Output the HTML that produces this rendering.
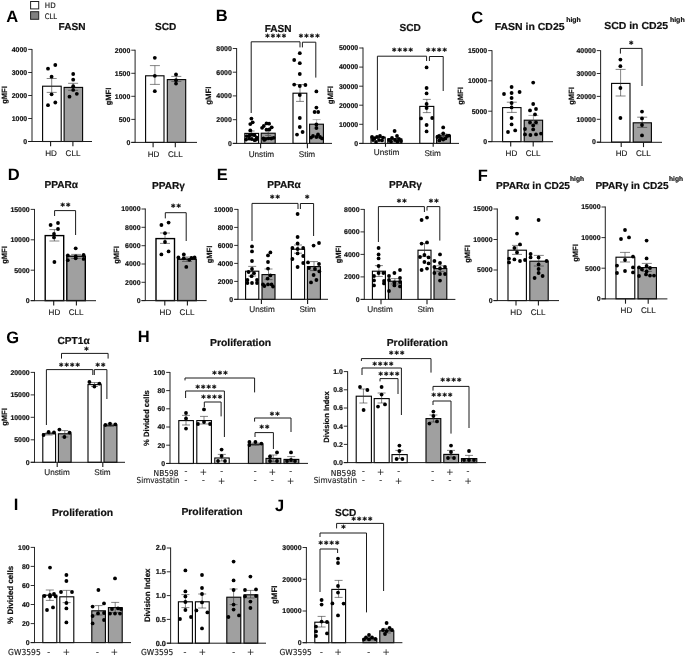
<!DOCTYPE html>
<html lang="en">
<head>
<meta charset="utf-8">
<title>Figure</title>
<style>
html,body{margin:0;padding:0;background:#fff;}
body{width:685px;height:657px;overflow:hidden;font-family:"Liberation Sans",sans-serif;}
svg{display:block;}
svg text{white-space:pre;text-rendering:geometricPrecision;}
</style>
</head>
<body>
<svg width="685" height="657" viewBox="0 0 685 657">
<rect x="30.6" y="1.5" width="8.1" height="7.4" fill="#fff" stroke="#222" stroke-width="1"/>
<rect x="30.6" y="11.7" width="8.1" height="7.6" fill="#808080" stroke="#222" stroke-width="1"/>
<text x="44.8" y="8.4" font-family="'DejaVu Sans', sans-serif" font-size="7.6" fill="#111" textLength="10.8" lengthAdjust="spacingAndGlyphs" stroke="#111" stroke-width="0.15">HD</text>
<text x="44.8" y="18.8" font-family="'DejaVu Sans', sans-serif" font-size="7.6" fill="#111" textLength="12.2" lengthAdjust="spacingAndGlyphs" stroke="#111" stroke-width="0.15">CLL</text>
<text x="6.3" y="22" font-family="'Liberation Sans', sans-serif" font-size="16.5" font-weight="bold" fill="#000">A</text>
<text x="72" y="29.6" font-family="'Liberation Sans', sans-serif" font-size="10.1" text-anchor="middle" font-weight="bold" stroke="#111" stroke-width="0.2" fill="#111">FASN</text>
<line x1="32" y1="48.95" x2="32" y2="141.95" stroke="#2a2a2a" stroke-width="1.05"/>
<line x1="28.2" y1="49.4" x2="32" y2="49.4" stroke="#1a1a1a" stroke-width="0.9"/>
<text x="27.2" y="51.75" font-family="'Liberation Sans', sans-serif" font-size="6.95" text-anchor="end" font-weight="bold" stroke="#111" stroke-width="0.2" fill="#111">4000</text>
<line x1="28.2" y1="72.5" x2="32" y2="72.5" stroke="#1a1a1a" stroke-width="0.9"/>
<text x="27.2" y="74.85" font-family="'Liberation Sans', sans-serif" font-size="6.95" text-anchor="end" font-weight="bold" stroke="#111" stroke-width="0.2" fill="#111">3000</text>
<line x1="28.2" y1="95.5" x2="32" y2="95.5" stroke="#1a1a1a" stroke-width="0.9"/>
<text x="27.2" y="97.85" font-family="'Liberation Sans', sans-serif" font-size="6.95" text-anchor="end" font-weight="bold" stroke="#111" stroke-width="0.2" fill="#111">2000</text>
<line x1="28.2" y1="118.5" x2="32" y2="118.5" stroke="#1a1a1a" stroke-width="0.9"/>
<text x="27.2" y="120.85" font-family="'Liberation Sans', sans-serif" font-size="6.95" text-anchor="end" font-weight="bold" stroke="#111" stroke-width="0.2" fill="#111">1000</text>
<line x1="28.2" y1="141.5" x2="32" y2="141.5" stroke="#1a1a1a" stroke-width="0.9"/>
<text x="27.2" y="143.85" font-family="'Liberation Sans', sans-serif" font-size="6.95" text-anchor="end" font-weight="bold" stroke="#111" stroke-width="0.2" fill="#111">0</text>
<text x="7.3" y="95" font-family="'Liberation Sans', sans-serif" font-size="7.6" text-anchor="middle" font-weight="bold" stroke="#111" stroke-width="0.2" fill="#111" transform="rotate(-90 7.3 95)">gMFI</text>
<rect x="42.6" y="86.2" width="18.6" height="55.3" fill="#fff" stroke="#000" stroke-width="1.1"/>
<rect x="64.1" y="87.4" width="18.5" height="54.1" fill="#a0a0a0" stroke="#000" stroke-width="1.1"/>
<line x1="51.7" y1="78.5" x2="51.7" y2="92.4" stroke="#333" stroke-width="0.6"/>
<line x1="46.7" y1="78.5" x2="56.7" y2="78.5" stroke="#333" stroke-width="0.6"/>
<line x1="46.7" y1="92.4" x2="56.7" y2="92.4" stroke="#333" stroke-width="0.6"/>
<line x1="73.1" y1="83.3" x2="73.1" y2="90.3" stroke="#333" stroke-width="0.6"/>
<line x1="68.1" y1="83.3" x2="78.1" y2="83.3" stroke="#333" stroke-width="0.6"/>
<line x1="68.1" y1="90.3" x2="78.1" y2="90.3" stroke="#333" stroke-width="0.6"/>
<line x1="28.2" y1="141.5" x2="92" y2="141.5" stroke="#1a1a1a" stroke-width="1"/>
<line x1="50.6" y1="141.5" x2="50.6" y2="146.3" stroke="#1a1a1a" stroke-width="1.1"/>
<line x1="72.9" y1="141.5" x2="72.9" y2="146.3" stroke="#1a1a1a" stroke-width="1.1"/>
<g fill="#000">
<circle cx="48" cy="68.7" r="1.9"/>
<circle cx="55.3" cy="65" r="1.9"/>
<circle cx="51.6" cy="76.7" r="1.9"/>
<circle cx="51.6" cy="94.3" r="1.9"/>
<circle cx="55.3" cy="102.5" r="1.9"/>
<circle cx="48" cy="105.2" r="1.9"/>
</g>
<g fill="#000">
<circle cx="73.2" cy="74" r="1.9"/>
<circle cx="73.2" cy="79.7" r="1.9"/>
<circle cx="73.2" cy="86.2" r="1.9"/>
<circle cx="73.2" cy="89.9" r="1.9"/>
<circle cx="76.8" cy="93.8" r="1.9"/>
<circle cx="69.5" cy="96.7" r="1.9"/>
</g>
<text x="51" y="155.9" font-family="'Liberation Sans', sans-serif" font-size="8.1" text-anchor="middle" fill="#151515" stroke="#151515" stroke-width="0.12">HD</text>
<text x="73" y="155.9" font-family="'Liberation Sans', sans-serif" font-size="8.1" text-anchor="middle" fill="#151515" stroke="#151515" stroke-width="0.12">CLL</text>
<text x="165.6" y="30.1" font-family="'Liberation Sans', sans-serif" font-size="10.1" text-anchor="middle" font-weight="bold" stroke="#111" stroke-width="0.2" fill="#111">SCD</text>
<line x1="135.1" y1="49.75" x2="135.1" y2="142.85" stroke="#2a2a2a" stroke-width="1.05"/>
<line x1="131.3" y1="50.2" x2="135.1" y2="50.2" stroke="#1a1a1a" stroke-width="0.9"/>
<text x="130.3" y="52.55" font-family="'Liberation Sans', sans-serif" font-size="6.95" text-anchor="end" font-weight="bold" stroke="#111" stroke-width="0.2" fill="#111">2000</text>
<line x1="131.3" y1="73.3" x2="135.1" y2="73.3" stroke="#1a1a1a" stroke-width="0.9"/>
<text x="130.3" y="75.65" font-family="'Liberation Sans', sans-serif" font-size="6.95" text-anchor="end" font-weight="bold" stroke="#111" stroke-width="0.2" fill="#111">1500</text>
<line x1="131.3" y1="96.3" x2="135.1" y2="96.3" stroke="#1a1a1a" stroke-width="0.9"/>
<text x="130.3" y="98.65" font-family="'Liberation Sans', sans-serif" font-size="6.95" text-anchor="end" font-weight="bold" stroke="#111" stroke-width="0.2" fill="#111">1000</text>
<line x1="131.3" y1="119.4" x2="135.1" y2="119.4" stroke="#1a1a1a" stroke-width="0.9"/>
<text x="130.3" y="121.75" font-family="'Liberation Sans', sans-serif" font-size="6.95" text-anchor="end" font-weight="bold" stroke="#111" stroke-width="0.2" fill="#111">500</text>
<line x1="131.3" y1="142.4" x2="135.1" y2="142.4" stroke="#1a1a1a" stroke-width="0.9"/>
<text x="130.3" y="144.75" font-family="'Liberation Sans', sans-serif" font-size="6.95" text-anchor="end" font-weight="bold" stroke="#111" stroke-width="0.2" fill="#111">0</text>
<text x="111" y="96.5" font-family="'Liberation Sans', sans-serif" font-size="7.6" text-anchor="middle" font-weight="bold" stroke="#111" stroke-width="0.2" fill="#111" transform="rotate(-90 111 96.5)">gMFI</text>
<rect x="145.6" y="75.8" width="18.4" height="66.6" fill="#fff" stroke="#000" stroke-width="1.1"/>
<rect x="167.3" y="79.6" width="18.4" height="62.8" fill="#a0a0a0" stroke="#000" stroke-width="1.1"/>
<line x1="154.9" y1="65.6" x2="154.9" y2="84.4" stroke="#333" stroke-width="0.6"/>
<line x1="149.9" y1="65.6" x2="159.9" y2="65.6" stroke="#333" stroke-width="0.6"/>
<line x1="149.9" y1="84.4" x2="159.9" y2="84.4" stroke="#333" stroke-width="0.6"/>
<line x1="176.3" y1="76.4" x2="176.3" y2="81.4" stroke="#333" stroke-width="0.6"/>
<line x1="171.3" y1="76.4" x2="181.3" y2="76.4" stroke="#333" stroke-width="0.6"/>
<line x1="171.3" y1="81.4" x2="181.3" y2="81.4" stroke="#333" stroke-width="0.6"/>
<line x1="131.3" y1="142.4" x2="197" y2="142.4" stroke="#1a1a1a" stroke-width="1"/>
<line x1="153.1" y1="142.4" x2="153.1" y2="147.2" stroke="#1a1a1a" stroke-width="1.1"/>
<line x1="175.3" y1="142.4" x2="175.3" y2="147.2" stroke="#1a1a1a" stroke-width="1.1"/>
<g fill="#000">
<circle cx="154.8" cy="57.8" r="1.9"/>
<circle cx="154.8" cy="75.8" r="1.9"/>
<circle cx="154.8" cy="91.2" r="1.9"/>
</g>
<g fill="#000">
<circle cx="176" cy="74.4" r="1.9"/>
<circle cx="176" cy="80.2" r="1.9"/>
<circle cx="176" cy="83.6" r="1.9"/>
</g>
<text x="153.5" y="156.7" font-family="'Liberation Sans', sans-serif" font-size="8.1" text-anchor="middle" fill="#151515" stroke="#151515" stroke-width="0.12">HD</text>
<text x="175.4" y="156.7" font-family="'Liberation Sans', sans-serif" font-size="8.1" text-anchor="middle" fill="#151515" stroke="#151515" stroke-width="0.12">CLL</text>
<text x="215.7" y="21.1" font-family="'Liberation Sans', sans-serif" font-size="16.5" font-weight="bold" fill="#000">B</text>
<text x="278.1" y="32" font-family="'Liberation Sans', sans-serif" font-size="10.1" text-anchor="middle" font-weight="bold" stroke="#111" stroke-width="0.2" fill="#111">FASN</text>
<line x1="236.6" y1="48.05" x2="236.6" y2="143.85" stroke="#2a2a2a" stroke-width="1.05"/>
<line x1="232.8" y1="48.5" x2="236.6" y2="48.5" stroke="#1a1a1a" stroke-width="0.9"/>
<text x="231.8" y="50.85" font-family="'Liberation Sans', sans-serif" font-size="6.95" text-anchor="end" font-weight="bold" stroke="#111" stroke-width="0.2" fill="#111">8000</text>
<line x1="232.8" y1="72.2" x2="236.6" y2="72.2" stroke="#1a1a1a" stroke-width="0.9"/>
<text x="231.8" y="74.55" font-family="'Liberation Sans', sans-serif" font-size="6.95" text-anchor="end" font-weight="bold" stroke="#111" stroke-width="0.2" fill="#111">6000</text>
<line x1="232.8" y1="95.9" x2="236.6" y2="95.9" stroke="#1a1a1a" stroke-width="0.9"/>
<text x="231.8" y="98.25" font-family="'Liberation Sans', sans-serif" font-size="6.95" text-anchor="end" font-weight="bold" stroke="#111" stroke-width="0.2" fill="#111">4000</text>
<line x1="232.8" y1="119.7" x2="236.6" y2="119.7" stroke="#1a1a1a" stroke-width="0.9"/>
<text x="231.8" y="122.05" font-family="'Liberation Sans', sans-serif" font-size="6.95" text-anchor="end" font-weight="bold" stroke="#111" stroke-width="0.2" fill="#111">2000</text>
<line x1="232.8" y1="143.4" x2="236.6" y2="143.4" stroke="#1a1a1a" stroke-width="0.9"/>
<text x="231.8" y="145.75" font-family="'Liberation Sans', sans-serif" font-size="6.95" text-anchor="end" font-weight="bold" stroke="#111" stroke-width="0.2" fill="#111">0</text>
<text x="211.1" y="95.7" font-family="'Liberation Sans', sans-serif" font-size="7.8" text-anchor="middle" font-weight="bold" stroke="#111" stroke-width="0.2" fill="#111" transform="rotate(-90 211.1 95.7)">gMFI</text>
<rect x="244.8" y="133.4" width="13.8" height="10" fill="#fff" stroke="#000" stroke-width="1.1"/>
<rect x="261.2" y="133.2" width="14" height="10.2" fill="#a0a0a0" stroke="#000" stroke-width="1.1"/>
<rect x="293" y="93.2" width="13.8" height="50.2" fill="#fff" stroke="#000" stroke-width="1.1"/>
<rect x="309.6" y="124.2" width="13.8" height="19.2" fill="#a0a0a0" stroke="#000" stroke-width="1.1"/>
<line x1="251.6" y1="131" x2="251.6" y2="135.5" stroke="#333" stroke-width="0.6"/>
<line x1="248.6" y1="131" x2="254.6" y2="131" stroke="#333" stroke-width="0.6"/>
<line x1="248.6" y1="135.5" x2="254.6" y2="135.5" stroke="#333" stroke-width="0.6"/>
<line x1="268.2" y1="130.6" x2="268.2" y2="135.4" stroke="#333" stroke-width="0.6"/>
<line x1="265.2" y1="130.6" x2="271.2" y2="130.6" stroke="#333" stroke-width="0.6"/>
<line x1="265.2" y1="135.4" x2="271.2" y2="135.4" stroke="#333" stroke-width="0.6"/>
<line x1="300" y1="84.6" x2="300" y2="101.4" stroke="#333" stroke-width="0.6"/>
<line x1="296" y1="84.6" x2="304" y2="84.6" stroke="#333" stroke-width="0.6"/>
<line x1="296" y1="101.4" x2="304" y2="101.4" stroke="#333" stroke-width="0.6"/>
<line x1="316.6" y1="119.6" x2="316.6" y2="128.6" stroke="#888" stroke-width="0.6"/>
<line x1="312.6" y1="119.6" x2="320.6" y2="119.6" stroke="#888" stroke-width="0.6"/>
<line x1="312.6" y1="128.6" x2="320.6" y2="128.6" stroke="#888" stroke-width="0.6"/>
<line x1="232.8" y1="143.4" x2="332" y2="143.4" stroke="#1a1a1a" stroke-width="1"/>
<line x1="260.6" y1="143.4" x2="260.6" y2="148.2" stroke="#1a1a1a" stroke-width="1.1"/>
<line x1="307.4" y1="143.4" x2="307.4" y2="148.2" stroke="#1a1a1a" stroke-width="1.1"/>
<g fill="#000">
<circle cx="251.4" cy="118.6" r="1.9"/>
<circle cx="252.7" cy="122.3" r="1.9"/>
<circle cx="250.3" cy="124.1" r="1.9"/>
<circle cx="250.3" cy="130.4" r="1.9"/>
<circle cx="246.8" cy="136.1" r="1.9"/>
<circle cx="249.4" cy="135.6" r="1.9"/>
<circle cx="252" cy="134.8" r="1.9"/>
<circle cx="254.5" cy="135.2" r="1.9"/>
<circle cx="256.8" cy="137.6" r="1.9"/>
<circle cx="246.1" cy="139.6" r="1.9"/>
<circle cx="249.2" cy="138.7" r="1.9"/>
<circle cx="251.8" cy="139" r="1.9"/>
<circle cx="254.6" cy="140.2" r="1.9"/>
<circle cx="256.2" cy="139.6" r="1.9"/>
</g>
<g fill="#000">
<circle cx="266.5" cy="123.4" r="1.9"/>
<circle cx="269.1" cy="123.7" r="1.9"/>
<circle cx="263.8" cy="126" r="1.9"/>
<circle cx="262.1" cy="127.8" r="1.9"/>
<circle cx="271.7" cy="127.3" r="1.9"/>
<circle cx="266.5" cy="129.7" r="1.9"/>
<circle cx="269.3" cy="129.5" r="1.9"/>
<circle cx="263.4" cy="138.3" r="1.9"/>
<circle cx="266" cy="138.8" r="1.9"/>
<circle cx="268.6" cy="138.3" r="1.9"/>
<circle cx="271.3" cy="138.5" r="1.9"/>
<circle cx="273.7" cy="137.8" r="1.9"/>
<circle cx="264.3" cy="139.9" r="1.9"/>
</g>
<g fill="#000">
<circle cx="299.8" cy="53.2" r="1.9"/>
<circle cx="294.2" cy="60" r="1.9"/>
<circle cx="299.8" cy="63.2" r="1.9"/>
<circle cx="299.8" cy="74" r="1.9"/>
<circle cx="294.2" cy="84.6" r="1.9"/>
<circle cx="299.8" cy="86" r="1.9"/>
<circle cx="305.4" cy="85" r="1.9"/>
<circle cx="299.8" cy="95" r="1.9"/>
<circle cx="299.8" cy="118" r="1.9"/>
<circle cx="299.8" cy="127" r="1.9"/>
<circle cx="302.6" cy="132" r="1.9"/>
<circle cx="297" cy="134.6" r="1.9"/>
</g>
<g fill="#000">
<circle cx="316.4" cy="91.4" r="1.9"/>
<circle cx="316.4" cy="107.6" r="1.9"/>
<circle cx="314.6" cy="112" r="1.9"/>
<circle cx="318.2" cy="112" r="1.9"/>
<circle cx="316.4" cy="124.4" r="1.9"/>
<circle cx="316.4" cy="128" r="1.9"/>
<circle cx="313" cy="136" r="1.9"/>
<circle cx="316.4" cy="137" r="1.9"/>
<circle cx="320" cy="137" r="1.9"/>
<circle cx="322" cy="138.4" r="1.9"/>
<circle cx="311" cy="137.6" r="1.9"/>
<circle cx="318" cy="134.4" r="1.9"/>
</g>
<path d="M251.2 113V41.8H300V47.4" fill="none" stroke="#1a1a1a" stroke-width="1"/>
<path d="M302.4 47.4V42.2H315.8V77.6" fill="none" stroke="#1a1a1a" stroke-width="1"/>
<text x="276.2" y="40.15" font-family="'DejaVu Sans', sans-serif" font-size="8.3" font-weight="bold" letter-spacing="1.15" text-anchor="middle" fill="#000" stroke="#000" stroke-width="0.25">****</text>
<text x="309.8" y="40.15" font-family="'DejaVu Sans', sans-serif" font-size="8.3" font-weight="bold" letter-spacing="1.15" text-anchor="middle" fill="#000" stroke="#000" stroke-width="0.25">****</text>
<text x="261.4" y="157" font-family="'Liberation Sans', sans-serif" font-size="8.2" text-anchor="middle" fill="#151515" stroke="#151515" stroke-width="0.12">Unstim</text>
<text x="307" y="157" font-family="'Liberation Sans', sans-serif" font-size="8.2" text-anchor="middle" fill="#151515" stroke="#151515" stroke-width="0.12">Stim</text>
<text x="410.2" y="31" font-family="'Liberation Sans', sans-serif" font-size="10.1" text-anchor="middle" font-weight="bold" stroke="#111" stroke-width="0.2" fill="#111">SCD</text>
<line x1="363" y1="47.55" x2="363" y2="143.85" stroke="#2a2a2a" stroke-width="1.05"/>
<line x1="359.2" y1="48" x2="363" y2="48" stroke="#1a1a1a" stroke-width="0.9"/>
<text x="358.2" y="50.35" font-family="'Liberation Sans', sans-serif" font-size="6.95" text-anchor="end" font-weight="bold" stroke="#111" stroke-width="0.2" fill="#111">50000</text>
<line x1="359.2" y1="67.1" x2="363" y2="67.1" stroke="#1a1a1a" stroke-width="0.9"/>
<text x="358.2" y="69.45" font-family="'Liberation Sans', sans-serif" font-size="6.95" text-anchor="end" font-weight="bold" stroke="#111" stroke-width="0.2" fill="#111">40000</text>
<line x1="359.2" y1="86.2" x2="363" y2="86.2" stroke="#1a1a1a" stroke-width="0.9"/>
<text x="358.2" y="88.55" font-family="'Liberation Sans', sans-serif" font-size="6.95" text-anchor="end" font-weight="bold" stroke="#111" stroke-width="0.2" fill="#111">30000</text>
<line x1="359.2" y1="105.2" x2="363" y2="105.2" stroke="#1a1a1a" stroke-width="0.9"/>
<text x="358.2" y="107.55" font-family="'Liberation Sans', sans-serif" font-size="6.95" text-anchor="end" font-weight="bold" stroke="#111" stroke-width="0.2" fill="#111">20000</text>
<line x1="359.2" y1="124.3" x2="363" y2="124.3" stroke="#1a1a1a" stroke-width="0.9"/>
<text x="358.2" y="126.65" font-family="'Liberation Sans', sans-serif" font-size="6.95" text-anchor="end" font-weight="bold" stroke="#111" stroke-width="0.2" fill="#111">10000</text>
<line x1="359.2" y1="143.4" x2="363" y2="143.4" stroke="#1a1a1a" stroke-width="0.9"/>
<text x="358.2" y="145.75" font-family="'Liberation Sans', sans-serif" font-size="6.95" text-anchor="end" font-weight="bold" stroke="#111" stroke-width="0.2" fill="#111">0</text>
<text x="333.4" y="95.2" font-family="'Liberation Sans', sans-serif" font-size="7.8" text-anchor="middle" font-weight="bold" stroke="#111" stroke-width="0.2" fill="#111" transform="rotate(-90 333.4 95.2)">gMFI</text>
<rect x="371" y="137.2" width="14.2" height="6.2" fill="#fff" stroke="#000" stroke-width="1.1"/>
<rect x="387.8" y="138.8" width="14" height="4.6" fill="#a0a0a0" stroke="#000" stroke-width="1.1"/>
<rect x="419.8" y="106.4" width="14" height="37" fill="#fff" stroke="#000" stroke-width="1.1"/>
<rect x="436.6" y="135.8" width="13.8" height="7.6" fill="#a0a0a0" stroke="#000" stroke-width="1.1"/>
<line x1="426.8" y1="99.4" x2="426.8" y2="112.6" stroke="#333" stroke-width="0.6"/>
<line x1="422.8" y1="99.4" x2="430.8" y2="99.4" stroke="#333" stroke-width="0.6"/>
<line x1="422.8" y1="112.6" x2="430.8" y2="112.6" stroke="#333" stroke-width="0.6"/>
<line x1="443.5" y1="134" x2="443.5" y2="137.5" stroke="#333" stroke-width="0.6"/>
<line x1="439.5" y1="134" x2="447.5" y2="134" stroke="#333" stroke-width="0.6"/>
<line x1="439.5" y1="137.5" x2="447.5" y2="137.5" stroke="#333" stroke-width="0.6"/>
<line x1="359.2" y1="143.4" x2="459" y2="143.4" stroke="#1a1a1a" stroke-width="1"/>
<line x1="385.5" y1="143.4" x2="385.5" y2="146.8" stroke="#1a1a1a" stroke-width="1.1"/>
<line x1="433.2" y1="143.4" x2="433.2" y2="146.8" stroke="#1a1a1a" stroke-width="1.1"/>
<g fill="#000">
<circle cx="372" cy="137" r="1.9"/>
<circle cx="374.4" cy="138.4" r="1.9"/>
<circle cx="377" cy="137" r="1.9"/>
<circle cx="380" cy="136" r="1.9"/>
<circle cx="383" cy="137.6" r="1.9"/>
<circle cx="376" cy="142" r="1.9"/>
<circle cx="379" cy="140" r="1.9"/>
<circle cx="382" cy="140.4" r="1.9"/>
<circle cx="373" cy="140" r="1.9"/>
</g>
<g fill="#000">
<circle cx="394.6" cy="131" r="1.9"/>
<circle cx="397" cy="136" r="1.9"/>
<circle cx="392" cy="138" r="1.9"/>
<circle cx="389" cy="140" r="1.9"/>
<circle cx="395" cy="140" r="1.9"/>
<circle cx="399" cy="139" r="1.9"/>
<circle cx="401" cy="141" r="1.9"/>
<circle cx="397.4" cy="141.6" r="1.9"/>
<circle cx="391" cy="141.6" r="1.9"/>
</g>
<g fill="#000">
<circle cx="426.6" cy="67.4" r="1.9"/>
<circle cx="426.6" cy="88" r="1.9"/>
<circle cx="426.6" cy="93.4" r="1.9"/>
<circle cx="426.6" cy="104" r="1.9"/>
<circle cx="426.6" cy="108" r="1.9"/>
<circle cx="421" cy="118.4" r="1.9"/>
<circle cx="432.2" cy="118" r="1.9"/>
<circle cx="426.6" cy="125" r="1.9"/>
<circle cx="426.6" cy="131.4" r="1.9"/>
</g>
<g fill="#000">
<circle cx="443.2" cy="127.4" r="1.9"/>
<circle cx="443.2" cy="133.4" r="1.9"/>
<circle cx="439" cy="136" r="1.9"/>
<circle cx="447" cy="136" r="1.9"/>
<circle cx="441" cy="138.4" r="1.9"/>
<circle cx="445.4" cy="138.4" r="1.9"/>
<circle cx="443.2" cy="139.6" r="1.9"/>
<circle cx="439.4" cy="140.4" r="1.9"/>
<circle cx="449" cy="135.6" r="1.9"/>
<circle cx="437.4" cy="137" r="1.9"/>
</g>
<path d="M377.4 130.2V56.2H426.6V61" fill="none" stroke="#1a1a1a" stroke-width="1"/>
<path d="M429.4 61V56.5H443.2V91" fill="none" stroke="#1a1a1a" stroke-width="1"/>
<text x="403" y="53.55" font-family="'DejaVu Sans', sans-serif" font-size="8.3" font-weight="bold" letter-spacing="1.15" text-anchor="middle" fill="#000" stroke="#000" stroke-width="0.25">****</text>
<text x="437" y="53.55" font-family="'DejaVu Sans', sans-serif" font-size="8.3" font-weight="bold" letter-spacing="1.15" text-anchor="middle" fill="#000" stroke="#000" stroke-width="0.25">****</text>
<text x="386.6" y="155" font-family="'Liberation Sans', sans-serif" font-size="8.2" text-anchor="middle" fill="#151515" stroke="#151515" stroke-width="0.12">Unstim</text>
<text x="432.6" y="156" font-family="'Liberation Sans', sans-serif" font-size="8.2" text-anchor="middle" fill="#151515" stroke="#151515" stroke-width="0.12">Stim</text>
<text x="471.35" y="23" font-family="'Liberation Sans', sans-serif" font-size="16.5" font-weight="bold" fill="#000">C</text>
<text x="494.7" y="30" font-family="'Liberation Sans', sans-serif" font-size="10.1" font-weight="bold" stroke="#111" stroke-width="0.2" fill="#111" textLength="69.9" lengthAdjust="spacingAndGlyphs">FASN in CD25</text>
<text x="566.2" y="22.4" font-family="'Liberation Sans', sans-serif" font-size="6.8" font-weight="bold" stroke="#111" stroke-width="0.2" fill="#111" textLength="14.6" lengthAdjust="spacingAndGlyphs">high</text>
<line x1="492" y1="50.15" x2="492" y2="142.05" stroke="#2a2a2a" stroke-width="1.05"/>
<line x1="488.2" y1="50.6" x2="492" y2="50.6" stroke="#1a1a1a" stroke-width="0.9"/>
<text x="487.2" y="52.95" font-family="'Liberation Sans', sans-serif" font-size="6.95" text-anchor="end" font-weight="bold" stroke="#111" stroke-width="0.2" fill="#111">15000</text>
<line x1="488.2" y1="80.8" x2="492" y2="80.8" stroke="#1a1a1a" stroke-width="0.9"/>
<text x="487.2" y="83.15" font-family="'Liberation Sans', sans-serif" font-size="6.95" text-anchor="end" font-weight="bold" stroke="#111" stroke-width="0.2" fill="#111">10000</text>
<line x1="488.2" y1="111.2" x2="492" y2="111.2" stroke="#1a1a1a" stroke-width="0.9"/>
<text x="487.2" y="113.55" font-family="'Liberation Sans', sans-serif" font-size="6.95" text-anchor="end" font-weight="bold" stroke="#111" stroke-width="0.2" fill="#111">5000</text>
<line x1="488.2" y1="141.6" x2="492" y2="141.6" stroke="#1a1a1a" stroke-width="0.9"/>
<text x="487.2" y="143.95" font-family="'Liberation Sans', sans-serif" font-size="6.95" text-anchor="end" font-weight="bold" stroke="#111" stroke-width="0.2" fill="#111">0</text>
<text x="462.6" y="96" font-family="'Liberation Sans', sans-serif" font-size="7.6" text-anchor="middle" font-weight="bold" stroke="#111" stroke-width="0.2" fill="#111" transform="rotate(-90 462.6 96)">gMFI</text>
<rect x="502.6" y="107.6" width="18.4" height="34" fill="#fff" stroke="#000" stroke-width="1.1"/>
<rect x="524.2" y="120.2" width="18.4" height="21.4" fill="#a0a0a0" stroke="#000" stroke-width="1.1"/>
<line x1="511.8" y1="102.2" x2="511.8" y2="112.4" stroke="#333" stroke-width="0.6"/>
<line x1="506.8" y1="102.2" x2="516.8" y2="102.2" stroke="#333" stroke-width="0.6"/>
<line x1="506.8" y1="112.4" x2="516.8" y2="112.4" stroke="#333" stroke-width="0.6"/>
<line x1="533.4" y1="115.4" x2="533.4" y2="124.6" stroke="#666" stroke-width="0.6"/>
<line x1="528.4" y1="115.4" x2="538.4" y2="115.4" stroke="#666" stroke-width="0.6"/>
<line x1="528.4" y1="124.6" x2="538.4" y2="124.6" stroke="#666" stroke-width="0.6"/>
<line x1="488.2" y1="141.7" x2="553" y2="141.7" stroke="#1a1a1a" stroke-width="1"/>
<line x1="510.7" y1="141.7" x2="510.7" y2="146.5" stroke="#1a1a1a" stroke-width="1.1"/>
<line x1="533.2" y1="141.7" x2="533.2" y2="146.5" stroke="#1a1a1a" stroke-width="1.1"/>
<g fill="#000">
<circle cx="511.6" cy="87" r="1.9"/>
<circle cx="504" cy="94" r="1.9"/>
<circle cx="511.6" cy="93" r="1.9"/>
<circle cx="519.6" cy="92" r="1.9"/>
<circle cx="511.6" cy="98" r="1.9"/>
<circle cx="511.6" cy="103" r="1.9"/>
<circle cx="511.6" cy="107.4" r="1.9"/>
<circle cx="511.6" cy="118" r="1.9"/>
<circle cx="511.6" cy="124.4" r="1.9"/>
<circle cx="508" cy="132" r="1.9"/>
<circle cx="515.2" cy="130.4" r="1.9"/>
</g>
<g fill="#000">
<circle cx="533.2" cy="82.6" r="1.9"/>
<circle cx="533.2" cy="104" r="1.9"/>
<circle cx="530" cy="110.4" r="1.9"/>
<circle cx="536" cy="109" r="1.9"/>
<circle cx="535" cy="114.4" r="1.9"/>
<circle cx="530" cy="122.4" r="1.9"/>
<circle cx="536" cy="122.4" r="1.9"/>
<circle cx="533.2" cy="125.4" r="1.9"/>
<circle cx="525" cy="129" r="1.9"/>
<circle cx="533.2" cy="129.4" r="1.9"/>
<circle cx="525" cy="134.4" r="1.9"/>
<circle cx="530.4" cy="135" r="1.9"/>
<circle cx="536" cy="134.4" r="1.9"/>
<circle cx="541" cy="133.6" r="1.9"/>
</g>
<text x="511.4" y="155.8" font-family="'Liberation Sans', sans-serif" font-size="8.1" text-anchor="middle" fill="#151515" stroke="#151515" stroke-width="0.12">HD</text>
<text x="533.2" y="155.8" font-family="'Liberation Sans', sans-serif" font-size="8.1" text-anchor="middle" fill="#151515" stroke="#151515" stroke-width="0.12">CLL</text>
<text x="604.2" y="29.4" font-family="'Liberation Sans', sans-serif" font-size="10.1" font-weight="bold" stroke="#111" stroke-width="0.2" fill="#111" textLength="64" lengthAdjust="spacingAndGlyphs">SCD in CD25</text>
<text x="669.9" y="21.6" font-family="'Liberation Sans', sans-serif" font-size="6.8" font-weight="bold" stroke="#111" stroke-width="0.2" fill="#111" textLength="14.8" lengthAdjust="spacingAndGlyphs">high</text>
<line x1="600.6" y1="50.15" x2="600.6" y2="142.55" stroke="#2a2a2a" stroke-width="1.05"/>
<line x1="596.8" y1="50.6" x2="600.6" y2="50.6" stroke="#1a1a1a" stroke-width="0.9"/>
<text x="595.8" y="52.95" font-family="'Liberation Sans', sans-serif" font-size="6.95" text-anchor="end" font-weight="bold" stroke="#111" stroke-width="0.2" fill="#111">40000</text>
<line x1="596.8" y1="73.5" x2="600.6" y2="73.5" stroke="#1a1a1a" stroke-width="0.9"/>
<text x="595.8" y="75.85" font-family="'Liberation Sans', sans-serif" font-size="6.95" text-anchor="end" font-weight="bold" stroke="#111" stroke-width="0.2" fill="#111">30000</text>
<line x1="596.8" y1="96.4" x2="600.6" y2="96.4" stroke="#1a1a1a" stroke-width="0.9"/>
<text x="595.8" y="98.75" font-family="'Liberation Sans', sans-serif" font-size="6.95" text-anchor="end" font-weight="bold" stroke="#111" stroke-width="0.2" fill="#111">20000</text>
<line x1="596.8" y1="119.3" x2="600.6" y2="119.3" stroke="#1a1a1a" stroke-width="0.9"/>
<text x="595.8" y="121.65" font-family="'Liberation Sans', sans-serif" font-size="6.95" text-anchor="end" font-weight="bold" stroke="#111" stroke-width="0.2" fill="#111">10000</text>
<line x1="596.8" y1="142.1" x2="600.6" y2="142.1" stroke="#1a1a1a" stroke-width="0.9"/>
<text x="595.8" y="144.45" font-family="'Liberation Sans', sans-serif" font-size="6.95" text-anchor="end" font-weight="bold" stroke="#111" stroke-width="0.2" fill="#111">0</text>
<text x="574" y="96" font-family="'Liberation Sans', sans-serif" font-size="7.6" text-anchor="middle" font-weight="bold" stroke="#111" stroke-width="0.2" fill="#111" transform="rotate(-90 574 96)">gMFI</text>
<rect x="611.6" y="83.4" width="18.4" height="58.7" fill="#fff" stroke="#000" stroke-width="1.1"/>
<rect x="633.2" y="122.8" width="18.2" height="19.3" fill="#a0a0a0" stroke="#000" stroke-width="1.1"/>
<line x1="620.6" y1="69.4" x2="620.6" y2="96" stroke="#333" stroke-width="0.6"/>
<line x1="615.6" y1="69.4" x2="625.6" y2="69.4" stroke="#333" stroke-width="0.6"/>
<line x1="615.6" y1="96" x2="625.6" y2="96" stroke="#333" stroke-width="0.6"/>
<line x1="642.2" y1="117.2" x2="642.2" y2="127.4" stroke="#333" stroke-width="0.6"/>
<line x1="637.2" y1="117.2" x2="647.2" y2="117.2" stroke="#333" stroke-width="0.6"/>
<line x1="637.2" y1="127.4" x2="647.2" y2="127.4" stroke="#333" stroke-width="0.6"/>
<line x1="596.8" y1="142.3" x2="662" y2="142.3" stroke="#1a1a1a" stroke-width="1"/>
<line x1="621.2" y1="142.3" x2="621.2" y2="147.1" stroke="#1a1a1a" stroke-width="1.1"/>
<line x1="643.5" y1="142.3" x2="643.5" y2="147.1" stroke="#1a1a1a" stroke-width="1.1"/>
<g fill="#000">
<circle cx="620.4" cy="59.6" r="1.9"/>
<circle cx="620.4" cy="66.2" r="1.9"/>
<circle cx="620.4" cy="88" r="1.9"/>
<circle cx="620.4" cy="118" r="1.9"/>
</g>
<g fill="#000">
<circle cx="642" cy="111.6" r="1.9"/>
<circle cx="642" cy="118.4" r="1.9"/>
<circle cx="642" cy="125" r="1.9"/>
<circle cx="642" cy="135.4" r="1.9"/>
</g>
<path d="M620.4 53.6V48.4H642V86" fill="none" stroke="#1a1a1a" stroke-width="1"/>
<text x="631.8" y="46.55" font-family="'DejaVu Sans', sans-serif" font-size="8.3" font-weight="bold" letter-spacing="1.15" text-anchor="middle" fill="#000" stroke="#000" stroke-width="0.25">*</text>
<text x="621.6" y="156" font-family="'Liberation Sans', sans-serif" font-size="8.1" text-anchor="middle" fill="#151515" stroke="#151515" stroke-width="0.12">HD</text>
<text x="643.4" y="156" font-family="'Liberation Sans', sans-serif" font-size="8.1" text-anchor="middle" fill="#151515" stroke="#151515" stroke-width="0.12">CLL</text>
<text x="7.85" y="179.5" font-family="'Liberation Sans', sans-serif" font-size="16.5" font-weight="bold" fill="#000">D</text>
<text x="61.2" y="188" font-family="'Liberation Sans', sans-serif" font-size="10.1" text-anchor="middle" font-weight="bold" stroke="#111" stroke-width="0.2" fill="#111">PPARα</text>
<line x1="34.5" y1="208.95" x2="34.5" y2="301.05" stroke="#2a2a2a" stroke-width="1.05"/>
<line x1="30.7" y1="209.4" x2="34.5" y2="209.4" stroke="#1a1a1a" stroke-width="0.9"/>
<text x="29.7" y="211.75" font-family="'Liberation Sans', sans-serif" font-size="6.95" text-anchor="end" font-weight="bold" stroke="#111" stroke-width="0.2" fill="#111">15000</text>
<line x1="30.7" y1="239.8" x2="34.5" y2="239.8" stroke="#1a1a1a" stroke-width="0.9"/>
<text x="29.7" y="242.15" font-family="'Liberation Sans', sans-serif" font-size="6.95" text-anchor="end" font-weight="bold" stroke="#111" stroke-width="0.2" fill="#111">10000</text>
<line x1="30.7" y1="270.2" x2="34.5" y2="270.2" stroke="#1a1a1a" stroke-width="0.9"/>
<text x="29.7" y="272.55" font-family="'Liberation Sans', sans-serif" font-size="6.95" text-anchor="end" font-weight="bold" stroke="#111" stroke-width="0.2" fill="#111">5000</text>
<line x1="30.7" y1="300.6" x2="34.5" y2="300.6" stroke="#1a1a1a" stroke-width="0.9"/>
<text x="29.7" y="302.95" font-family="'Liberation Sans', sans-serif" font-size="6.95" text-anchor="end" font-weight="bold" stroke="#111" stroke-width="0.2" fill="#111">0</text>
<text x="7.3" y="255" font-family="'Liberation Sans', sans-serif" font-size="7.6" text-anchor="middle" font-weight="bold" stroke="#111" stroke-width="0.2" fill="#111" transform="rotate(-90 7.3 255)">gMFI</text>
<rect x="45.2" y="235.6" width="18.5" height="65" fill="#fff" stroke="#000" stroke-width="1.4"/>
<rect x="66.8" y="256.2" width="18.5" height="44.4" fill="#a0a0a0" stroke="#000" stroke-width="1.4"/>
<line x1="54.4" y1="229.6" x2="54.4" y2="241" stroke="#333" stroke-width="0.6"/>
<line x1="49.4" y1="229.6" x2="59.4" y2="229.6" stroke="#333" stroke-width="0.6"/>
<line x1="49.4" y1="241" x2="59.4" y2="241" stroke="#333" stroke-width="0.6"/>
<line x1="76.2" y1="254.4" x2="76.2" y2="258.4" stroke="#333" stroke-width="0.6"/>
<line x1="71.2" y1="254.4" x2="81.2" y2="254.4" stroke="#333" stroke-width="0.6"/>
<line x1="71.2" y1="258.4" x2="81.2" y2="258.4" stroke="#333" stroke-width="0.6"/>
<line x1="30.7" y1="300.7" x2="96" y2="300.7" stroke="#1a1a1a" stroke-width="1"/>
<line x1="53.7" y1="300.7" x2="53.7" y2="305.5" stroke="#1a1a1a" stroke-width="1.1"/>
<line x1="76.4" y1="300.7" x2="76.4" y2="305.5" stroke="#1a1a1a" stroke-width="1.1"/>
<g fill="#000">
<circle cx="50.6" cy="225" r="1.9"/>
<circle cx="58" cy="223" r="1.9"/>
<circle cx="54" cy="234" r="1.9"/>
<circle cx="58" cy="229" r="1.9"/>
<circle cx="54" cy="237.4" r="1.9"/>
<circle cx="54.4" cy="262" r="1.9"/>
</g>
<g fill="#000">
<circle cx="75.7" cy="248.3" r="1.9"/>
<circle cx="67.8" cy="255.5" r="1.9"/>
<circle cx="67.8" cy="260.2" r="1.9"/>
<circle cx="75.7" cy="258.3" r="1.9"/>
<circle cx="83.6" cy="254.9" r="1.9"/>
<circle cx="83.6" cy="258.9" r="1.9"/>
<circle cx="75.7" cy="256.5" r="1.9"/>
</g>
<path d="M54.6 216V210.6H75.6V235" fill="none" stroke="#1a1a1a" stroke-width="1"/>
<text x="66" y="208.95" font-family="'DejaVu Sans', sans-serif" font-size="8.3" font-weight="bold" letter-spacing="1.15" text-anchor="middle" fill="#000" stroke="#000" stroke-width="0.25">**</text>
<text x="54.4" y="314.8" font-family="'Liberation Sans', sans-serif" font-size="8.1" text-anchor="middle" fill="#151515" stroke="#151515" stroke-width="0.12">HD</text>
<text x="76.2" y="314.8" font-family="'Liberation Sans', sans-serif" font-size="8.1" text-anchor="middle" fill="#151515" stroke="#151515" stroke-width="0.12">CLL</text>
<text x="168.5" y="189" font-family="'Liberation Sans', sans-serif" font-size="10.1" text-anchor="middle" font-weight="bold" stroke="#111" stroke-width="0.2" fill="#111">PPARγ</text>
<line x1="145.3" y1="208.55" x2="145.3" y2="301.05" stroke="#2a2a2a" stroke-width="1.05"/>
<line x1="141.5" y1="209" x2="145.3" y2="209" stroke="#1a1a1a" stroke-width="0.9"/>
<text x="140.5" y="211.35" font-family="'Liberation Sans', sans-serif" font-size="6.95" text-anchor="end" font-weight="bold" stroke="#111" stroke-width="0.2" fill="#111">10000</text>
<line x1="141.5" y1="227.3" x2="145.3" y2="227.3" stroke="#1a1a1a" stroke-width="0.9"/>
<text x="140.5" y="229.65" font-family="'Liberation Sans', sans-serif" font-size="6.95" text-anchor="end" font-weight="bold" stroke="#111" stroke-width="0.2" fill="#111">8000</text>
<line x1="141.5" y1="245.7" x2="145.3" y2="245.7" stroke="#1a1a1a" stroke-width="0.9"/>
<text x="140.5" y="248.05" font-family="'Liberation Sans', sans-serif" font-size="6.95" text-anchor="end" font-weight="bold" stroke="#111" stroke-width="0.2" fill="#111">6000</text>
<line x1="141.5" y1="264" x2="145.3" y2="264" stroke="#1a1a1a" stroke-width="0.9"/>
<text x="140.5" y="266.35" font-family="'Liberation Sans', sans-serif" font-size="6.95" text-anchor="end" font-weight="bold" stroke="#111" stroke-width="0.2" fill="#111">4000</text>
<line x1="141.5" y1="282.3" x2="145.3" y2="282.3" stroke="#1a1a1a" stroke-width="0.9"/>
<text x="140.5" y="284.65" font-family="'Liberation Sans', sans-serif" font-size="6.95" text-anchor="end" font-weight="bold" stroke="#111" stroke-width="0.2" fill="#111">2000</text>
<line x1="141.5" y1="300.6" x2="145.3" y2="300.6" stroke="#1a1a1a" stroke-width="0.9"/>
<text x="140.5" y="302.95" font-family="'Liberation Sans', sans-serif" font-size="6.95" text-anchor="end" font-weight="bold" stroke="#111" stroke-width="0.2" fill="#111">0</text>
<text x="118.5" y="255" font-family="'Liberation Sans', sans-serif" font-size="7.6" text-anchor="middle" font-weight="bold" stroke="#111" stroke-width="0.2" fill="#111" transform="rotate(-90 118.5 255)">gMFI</text>
<rect x="156" y="238.6" width="18.5" height="62" fill="#fff" stroke="#000" stroke-width="1.4"/>
<rect x="177.6" y="259.2" width="18.6" height="41.4" fill="#a0a0a0" stroke="#000" stroke-width="1.4"/>
<line x1="165" y1="233" x2="165" y2="243.4" stroke="#333" stroke-width="0.6"/>
<line x1="160" y1="233" x2="170" y2="233" stroke="#333" stroke-width="0.6"/>
<line x1="160" y1="243.4" x2="170" y2="243.4" stroke="#333" stroke-width="0.6"/>
<line x1="187" y1="257" x2="187" y2="261.4" stroke="#333" stroke-width="0.6"/>
<line x1="182" y1="257" x2="192" y2="257" stroke="#333" stroke-width="0.6"/>
<line x1="182" y1="261.4" x2="192" y2="261.4" stroke="#333" stroke-width="0.6"/>
<line x1="141.5" y1="300.6" x2="206.6" y2="300.6" stroke="#1a1a1a" stroke-width="1"/>
<line x1="164.8" y1="300.6" x2="164.8" y2="305.4" stroke="#1a1a1a" stroke-width="1.1"/>
<line x1="187.4" y1="300.6" x2="187.4" y2="305.4" stroke="#1a1a1a" stroke-width="1.1"/>
<g fill="#000">
<circle cx="161.4" cy="225" r="1.9"/>
<circle cx="168.6" cy="222.6" r="1.9"/>
<circle cx="165" cy="233.2" r="1.9"/>
<circle cx="165" cy="242" r="1.9"/>
<circle cx="161.4" cy="254.4" r="1.9"/>
<circle cx="168.6" cy="251.4" r="1.9"/>
</g>
<g fill="#000">
<circle cx="183.8" cy="254.4" r="1.9"/>
<circle cx="178.4" cy="257.5" r="1.9"/>
<circle cx="194.6" cy="257.5" r="1.9"/>
<circle cx="183.8" cy="258.3" r="1.9"/>
<circle cx="189.3" cy="259.8" r="1.9"/>
<circle cx="186.3" cy="266.9" r="1.9"/>
<circle cx="191.5" cy="258" r="1.9"/>
</g>
<path d="M165.3 218.4V212.7H186.2V241" fill="none" stroke="#1a1a1a" stroke-width="1"/>
<text x="176.6" y="210.35" font-family="'DejaVu Sans', sans-serif" font-size="8.3" font-weight="bold" letter-spacing="1.15" text-anchor="middle" fill="#000" stroke="#000" stroke-width="0.25">**</text>
<text x="165.4" y="314.8" font-family="'Liberation Sans', sans-serif" font-size="8.1" text-anchor="middle" fill="#151515" stroke="#151515" stroke-width="0.12">HD</text>
<text x="187" y="314.8" font-family="'Liberation Sans', sans-serif" font-size="8.1" text-anchor="middle" fill="#151515" stroke="#151515" stroke-width="0.12">CLL</text>
<text x="216.7" y="180" font-family="'Liberation Sans', sans-serif" font-size="16.5" font-weight="bold" fill="#000">E</text>
<text x="284" y="188" font-family="'Liberation Sans', sans-serif" font-size="10.1" text-anchor="middle" font-weight="bold" stroke="#111" stroke-width="0.2" fill="#111">PPARα</text>
<line x1="238" y1="208.95" x2="238" y2="299.85" stroke="#2a2a2a" stroke-width="1.05"/>
<line x1="234.2" y1="209.4" x2="238" y2="209.4" stroke="#1a1a1a" stroke-width="0.9"/>
<text x="233.2" y="211.75" font-family="'Liberation Sans', sans-serif" font-size="6.95" text-anchor="end" font-weight="bold" stroke="#111" stroke-width="0.2" fill="#111">10000</text>
<line x1="234.2" y1="227.4" x2="238" y2="227.4" stroke="#1a1a1a" stroke-width="0.9"/>
<text x="233.2" y="229.75" font-family="'Liberation Sans', sans-serif" font-size="6.95" text-anchor="end" font-weight="bold" stroke="#111" stroke-width="0.2" fill="#111">8000</text>
<line x1="234.2" y1="245.4" x2="238" y2="245.4" stroke="#1a1a1a" stroke-width="0.9"/>
<text x="233.2" y="247.75" font-family="'Liberation Sans', sans-serif" font-size="6.95" text-anchor="end" font-weight="bold" stroke="#111" stroke-width="0.2" fill="#111">6000</text>
<line x1="234.2" y1="263.4" x2="238" y2="263.4" stroke="#1a1a1a" stroke-width="0.9"/>
<text x="233.2" y="265.75" font-family="'Liberation Sans', sans-serif" font-size="6.95" text-anchor="end" font-weight="bold" stroke="#111" stroke-width="0.2" fill="#111">4000</text>
<line x1="234.2" y1="281.4" x2="238" y2="281.4" stroke="#1a1a1a" stroke-width="0.9"/>
<text x="233.2" y="283.75" font-family="'Liberation Sans', sans-serif" font-size="6.95" text-anchor="end" font-weight="bold" stroke="#111" stroke-width="0.2" fill="#111">2000</text>
<line x1="234.2" y1="299.4" x2="238" y2="299.4" stroke="#1a1a1a" stroke-width="0.9"/>
<text x="233.2" y="301.75" font-family="'Liberation Sans', sans-serif" font-size="6.95" text-anchor="end" font-weight="bold" stroke="#111" stroke-width="0.2" fill="#111">0</text>
<text x="211.5" y="254.5" font-family="'Liberation Sans', sans-serif" font-size="7.6" text-anchor="middle" font-weight="bold" stroke="#111" stroke-width="0.2" fill="#111" transform="rotate(-90 211.5 254.5)">gMFI</text>
<rect x="245.6" y="271.2" width="13.2" height="28.2" fill="#fff" stroke="#000" stroke-width="1.1"/>
<rect x="262" y="274.6" width="13" height="24.8" fill="#a0a0a0" stroke="#000" stroke-width="1.1"/>
<rect x="291.4" y="249.2" width="13.2" height="50.2" fill="#fff" stroke="#000" stroke-width="1.1"/>
<rect x="307.4" y="266.6" width="13" height="32.8" fill="#a0a0a0" stroke="#000" stroke-width="1.1"/>
<line x1="252.2" y1="266.4" x2="252.2" y2="276" stroke="#333" stroke-width="0.6"/>
<line x1="248.2" y1="266.4" x2="256.2" y2="266.4" stroke="#333" stroke-width="0.6"/>
<line x1="248.2" y1="276" x2="256.2" y2="276" stroke="#333" stroke-width="0.6"/>
<line x1="268.5" y1="269" x2="268.5" y2="279.6" stroke="#333" stroke-width="0.6"/>
<line x1="264.5" y1="269" x2="272.5" y2="269" stroke="#333" stroke-width="0.6"/>
<line x1="264.5" y1="279.6" x2="272.5" y2="279.6" stroke="#333" stroke-width="0.6"/>
<line x1="298" y1="245" x2="298" y2="253.2" stroke="#333" stroke-width="0.6"/>
<line x1="294" y1="245" x2="302" y2="245" stroke="#333" stroke-width="0.6"/>
<line x1="294" y1="253.2" x2="302" y2="253.2" stroke="#333" stroke-width="0.6"/>
<line x1="314" y1="261.6" x2="314" y2="270.6" stroke="#333" stroke-width="0.6"/>
<line x1="310" y1="261.6" x2="318" y2="261.6" stroke="#333" stroke-width="0.6"/>
<line x1="310" y1="270.6" x2="318" y2="270.6" stroke="#333" stroke-width="0.6"/>
<line x1="234.2" y1="299.3" x2="328" y2="299.3" stroke="#1a1a1a" stroke-width="1"/>
<line x1="261.4" y1="299.3" x2="261.4" y2="304.1" stroke="#1a1a1a" stroke-width="1.1"/>
<line x1="307.6" y1="299.3" x2="307.6" y2="304.1" stroke="#1a1a1a" stroke-width="1.1"/>
<g fill="#000">
<circle cx="252" cy="246.4" r="1.9"/>
<circle cx="252" cy="251.4" r="1.9"/>
<circle cx="252" cy="261" r="1.9"/>
<circle cx="252" cy="269" r="1.9"/>
<circle cx="248.6" cy="272" r="1.9"/>
<circle cx="254" cy="273.2" r="1.9"/>
<circle cx="251.6" cy="276.2" r="1.9"/>
<circle cx="247.4" cy="280" r="1.9"/>
<circle cx="257" cy="280" r="1.9"/>
<circle cx="247.4" cy="283" r="1.9"/>
<circle cx="252" cy="283" r="1.9"/>
<circle cx="257" cy="283" r="1.9"/>
</g>
<g fill="#000">
<circle cx="270.4" cy="252.4" r="1.9"/>
<circle cx="268" cy="255.4" r="1.9"/>
<circle cx="268" cy="262" r="1.9"/>
<circle cx="268" cy="268.6" r="1.9"/>
<circle cx="270.4" cy="275.4" r="1.9"/>
<circle cx="267.6" cy="278.6" r="1.9"/>
<circle cx="263" cy="284.4" r="1.9"/>
<circle cx="268" cy="284.4" r="1.9"/>
<circle cx="271.6" cy="284.4" r="1.9"/>
<circle cx="273" cy="286.6" r="1.9"/>
<circle cx="264.4" cy="286" r="1.9"/>
</g>
<g fill="#000">
<circle cx="297.6" cy="214" r="1.9"/>
<circle cx="297.6" cy="237" r="1.9"/>
<circle cx="297.6" cy="243.4" r="1.9"/>
<circle cx="292.4" cy="248" r="1.9"/>
<circle cx="297.6" cy="249" r="1.9"/>
<circle cx="303.2" cy="248" r="1.9"/>
<circle cx="297.6" cy="253.4" r="1.9"/>
<circle cx="292.4" cy="259" r="1.9"/>
<circle cx="303.2" cy="256" r="1.9"/>
<circle cx="303.2" cy="263" r="1.9"/>
<circle cx="297.6" cy="267" r="1.9"/>
</g>
<g fill="#000">
<circle cx="313.6" cy="245.6" r="1.9"/>
<circle cx="319" cy="243" r="1.9"/>
<circle cx="308" cy="262.4" r="1.9"/>
<circle cx="319" cy="264" r="1.9"/>
<circle cx="315" cy="269" r="1.9"/>
<circle cx="319.4" cy="271.4" r="1.9"/>
<circle cx="313.6" cy="275" r="1.9"/>
<circle cx="316.4" cy="280" r="1.9"/>
<circle cx="311" cy="282.4" r="1.9"/>
<circle cx="309" cy="268" r="1.9"/>
</g>
<path d="M252 241V203.4H298V209" fill="none" stroke="#1a1a1a" stroke-width="1"/>
<path d="M300.4 209V203.5H313.6V236" fill="none" stroke="#1a1a1a" stroke-width="1"/>
<text x="275.6" y="201.35" font-family="'DejaVu Sans', sans-serif" font-size="8.3" font-weight="bold" letter-spacing="1.15" text-anchor="middle" fill="#000" stroke="#000" stroke-width="0.25">**</text>
<text x="307.8" y="201.35" font-family="'DejaVu Sans', sans-serif" font-size="8.3" font-weight="bold" letter-spacing="1.15" text-anchor="middle" fill="#000" stroke="#000" stroke-width="0.25">*</text>
<text x="262" y="312" font-family="'Liberation Sans', sans-serif" font-size="8.2" text-anchor="middle" fill="#151515" stroke="#151515" stroke-width="0.12">Unstim</text>
<text x="307.6" y="312" font-family="'Liberation Sans', sans-serif" font-size="8.2" text-anchor="middle" fill="#151515" stroke="#151515" stroke-width="0.12">Stim</text>
<text x="405.5" y="188" font-family="'Liberation Sans', sans-serif" font-size="10.1" text-anchor="middle" font-weight="bold" stroke="#111" stroke-width="0.2" fill="#111">PPARγ</text>
<line x1="364.3" y1="208.95" x2="364.3" y2="299.85" stroke="#2a2a2a" stroke-width="1.05"/>
<line x1="360.5" y1="209.4" x2="364.3" y2="209.4" stroke="#1a1a1a" stroke-width="0.9"/>
<text x="359.5" y="211.75" font-family="'Liberation Sans', sans-serif" font-size="6.95" text-anchor="end" font-weight="bold" stroke="#111" stroke-width="0.2" fill="#111">8000</text>
<line x1="360.5" y1="231.9" x2="364.3" y2="231.9" stroke="#1a1a1a" stroke-width="0.9"/>
<text x="359.5" y="234.25" font-family="'Liberation Sans', sans-serif" font-size="6.95" text-anchor="end" font-weight="bold" stroke="#111" stroke-width="0.2" fill="#111">6000</text>
<line x1="360.5" y1="254.4" x2="364.3" y2="254.4" stroke="#1a1a1a" stroke-width="0.9"/>
<text x="359.5" y="256.75" font-family="'Liberation Sans', sans-serif" font-size="6.95" text-anchor="end" font-weight="bold" stroke="#111" stroke-width="0.2" fill="#111">4000</text>
<line x1="360.5" y1="276.9" x2="364.3" y2="276.9" stroke="#1a1a1a" stroke-width="0.9"/>
<text x="359.5" y="279.25" font-family="'Liberation Sans', sans-serif" font-size="6.95" text-anchor="end" font-weight="bold" stroke="#111" stroke-width="0.2" fill="#111">2000</text>
<line x1="360.5" y1="299.4" x2="364.3" y2="299.4" stroke="#1a1a1a" stroke-width="0.9"/>
<text x="359.5" y="301.75" font-family="'Liberation Sans', sans-serif" font-size="6.95" text-anchor="end" font-weight="bold" stroke="#111" stroke-width="0.2" fill="#111">0</text>
<text x="341" y="254.5" font-family="'Liberation Sans', sans-serif" font-size="7.6" text-anchor="middle" font-weight="bold" stroke="#111" stroke-width="0.2" fill="#111" transform="rotate(-90 341 254.5)">gMFI</text>
<rect x="372.4" y="271.2" width="13" height="28.2" fill="#fff" stroke="#000" stroke-width="1.1"/>
<rect x="388.4" y="281.2" width="13" height="18.2" fill="#a0a0a0" stroke="#000" stroke-width="1.1"/>
<rect x="418" y="250.2" width="13" height="49.2" fill="#fff" stroke="#000" stroke-width="1.1"/>
<rect x="434" y="268.6" width="12.8" height="30.8" fill="#a0a0a0" stroke="#000" stroke-width="1.1"/>
<line x1="378.9" y1="265.6" x2="378.9" y2="276.4" stroke="#333" stroke-width="0.6"/>
<line x1="374.9" y1="265.6" x2="382.9" y2="265.6" stroke="#333" stroke-width="0.6"/>
<line x1="374.9" y1="276.4" x2="382.9" y2="276.4" stroke="#333" stroke-width="0.6"/>
<line x1="394.9" y1="278.6" x2="394.9" y2="284" stroke="#333" stroke-width="0.6"/>
<line x1="390.9" y1="278.6" x2="398.9" y2="278.6" stroke="#333" stroke-width="0.6"/>
<line x1="390.9" y1="284" x2="398.9" y2="284" stroke="#333" stroke-width="0.6"/>
<line x1="424.5" y1="243.6" x2="424.5" y2="256.6" stroke="#333" stroke-width="0.6"/>
<line x1="420.5" y1="243.6" x2="428.5" y2="243.6" stroke="#333" stroke-width="0.6"/>
<line x1="420.5" y1="256.6" x2="428.5" y2="256.6" stroke="#333" stroke-width="0.6"/>
<line x1="440.4" y1="265.8" x2="440.4" y2="271.4" stroke="#333" stroke-width="0.6"/>
<line x1="436.4" y1="265.8" x2="444.4" y2="265.8" stroke="#333" stroke-width="0.6"/>
<line x1="436.4" y1="271.4" x2="444.4" y2="271.4" stroke="#333" stroke-width="0.6"/>
<line x1="360.8" y1="299.4" x2="455.4" y2="299.4" stroke="#1a1a1a" stroke-width="1"/>
<line x1="381" y1="299.4" x2="381" y2="304.2" stroke="#1a1a1a" stroke-width="1.1"/>
<line x1="427" y1="299.4" x2="427" y2="304.2" stroke="#1a1a1a" stroke-width="1.1"/>
<g fill="#000">
<circle cx="378.6" cy="248" r="1.9"/>
<circle cx="378.6" cy="254.4" r="1.9"/>
<circle cx="378.6" cy="258.4" r="1.9"/>
<circle cx="378.6" cy="266" r="1.9"/>
<circle cx="378.6" cy="273" r="1.9"/>
<circle cx="374" cy="276" r="1.9"/>
<circle cx="383.4" cy="273" r="1.9"/>
<circle cx="374" cy="280.4" r="1.9"/>
<circle cx="384" cy="281" r="1.9"/>
<circle cx="374" cy="285.4" r="1.9"/>
<circle cx="384" cy="283.4" r="1.9"/>
</g>
<g fill="#000">
<circle cx="400" cy="270" r="1.9"/>
<circle cx="394.4" cy="273" r="1.9"/>
<circle cx="389" cy="276" r="1.9"/>
<circle cx="389" cy="280" r="1.9"/>
<circle cx="400" cy="278" r="1.9"/>
<circle cx="394.4" cy="282.4" r="1.9"/>
<circle cx="400" cy="282" r="1.9"/>
<circle cx="394.4" cy="285.4" r="1.9"/>
<circle cx="400" cy="286.4" r="1.9"/>
<circle cx="389" cy="291" r="1.9"/>
</g>
<g fill="#000">
<circle cx="421.6" cy="220" r="1.9"/>
<circle cx="427" cy="217.6" r="1.9"/>
<circle cx="421.6" cy="243.6" r="1.9"/>
<circle cx="427" cy="242.4" r="1.9"/>
<circle cx="424.4" cy="255" r="1.9"/>
<circle cx="420" cy="257" r="1.9"/>
<circle cx="428.6" cy="257.4" r="1.9"/>
<circle cx="424.4" cy="262" r="1.9"/>
<circle cx="428.6" cy="263.4" r="1.9"/>
<circle cx="421.6" cy="270" r="1.9"/>
<circle cx="427" cy="268.6" r="1.9"/>
</g>
<g fill="#000">
<circle cx="440" cy="254.4" r="1.9"/>
<circle cx="434.4" cy="261" r="1.9"/>
<circle cx="440" cy="263" r="1.9"/>
<circle cx="434.4" cy="267" r="1.9"/>
<circle cx="440" cy="268.4" r="1.9"/>
<circle cx="445" cy="267" r="1.9"/>
<circle cx="434.4" cy="273" r="1.9"/>
<circle cx="440" cy="274" r="1.9"/>
<circle cx="445" cy="274" r="1.9"/>
<circle cx="440" cy="280.6" r="1.9"/>
</g>
<path d="M378.4 242V206.6H424.4V212" fill="none" stroke="#1a1a1a" stroke-width="1"/>
<path d="M427 210.6V206.6H439.8V240.6" fill="none" stroke="#1a1a1a" stroke-width="1"/>
<text x="402.2" y="204.75" font-family="'DejaVu Sans', sans-serif" font-size="8.3" font-weight="bold" letter-spacing="1.15" text-anchor="middle" fill="#000" stroke="#000" stroke-width="0.25">**</text>
<text x="434.2" y="204.75" font-family="'DejaVu Sans', sans-serif" font-size="8.3" font-weight="bold" letter-spacing="1.15" text-anchor="middle" fill="#000" stroke="#000" stroke-width="0.25">**</text>
<text x="380" y="312" font-family="'Liberation Sans', sans-serif" font-size="8.2" text-anchor="middle" fill="#151515" stroke="#151515" stroke-width="0.12">Unstim</text>
<text x="425.6" y="312" font-family="'Liberation Sans', sans-serif" font-size="8.2" text-anchor="middle" fill="#151515" stroke="#151515" stroke-width="0.12">Stim</text>
<text x="477.7" y="180.6" font-family="'Liberation Sans', sans-serif" font-size="16.5" font-weight="bold" fill="#000">F</text>
<text x="496" y="188.6" font-family="'Liberation Sans', sans-serif" font-size="10.1" font-weight="bold" stroke="#111" stroke-width="0.2" fill="#111" textLength="74" lengthAdjust="spacingAndGlyphs">PPARα in CD25</text>
<text x="570" y="181.4" font-family="'Liberation Sans', sans-serif" font-size="6.8" font-weight="bold" stroke="#111" stroke-width="0.2" fill="#111" textLength="14" lengthAdjust="spacingAndGlyphs">high</text>
<line x1="497.3" y1="208.55" x2="497.3" y2="301.05" stroke="#2a2a2a" stroke-width="1.05"/>
<line x1="493.5" y1="209" x2="497.3" y2="209" stroke="#1a1a1a" stroke-width="0.9"/>
<text x="492.5" y="211.35" font-family="'Liberation Sans', sans-serif" font-size="6.95" text-anchor="end" font-weight="bold" stroke="#111" stroke-width="0.2" fill="#111">15000</text>
<line x1="493.5" y1="239.5" x2="497.3" y2="239.5" stroke="#1a1a1a" stroke-width="0.9"/>
<text x="492.5" y="241.85" font-family="'Liberation Sans', sans-serif" font-size="6.95" text-anchor="end" font-weight="bold" stroke="#111" stroke-width="0.2" fill="#111">10000</text>
<line x1="493.5" y1="270" x2="497.3" y2="270" stroke="#1a1a1a" stroke-width="0.9"/>
<text x="492.5" y="272.35" font-family="'Liberation Sans', sans-serif" font-size="6.95" text-anchor="end" font-weight="bold" stroke="#111" stroke-width="0.2" fill="#111">5000</text>
<line x1="493.5" y1="300.6" x2="497.3" y2="300.6" stroke="#1a1a1a" stroke-width="0.9"/>
<text x="492.5" y="302.95" font-family="'Liberation Sans', sans-serif" font-size="6.95" text-anchor="end" font-weight="bold" stroke="#111" stroke-width="0.2" fill="#111">0</text>
<text x="470" y="254" font-family="'Liberation Sans', sans-serif" font-size="7.6" text-anchor="middle" font-weight="bold" stroke="#111" stroke-width="0.2" fill="#111" transform="rotate(-90 470 254)">gMFI</text>
<rect x="508" y="250.2" width="18.4" height="50.4" fill="#fff" stroke="#000" stroke-width="1.1"/>
<rect x="529.8" y="261.2" width="18.4" height="39.4" fill="#a0a0a0" stroke="#000" stroke-width="1.1"/>
<line x1="517" y1="245.4" x2="517" y2="254.4" stroke="#333" stroke-width="0.6"/>
<line x1="512" y1="245.4" x2="522" y2="245.4" stroke="#333" stroke-width="0.6"/>
<line x1="512" y1="254.4" x2="522" y2="254.4" stroke="#333" stroke-width="0.6"/>
<line x1="538.8" y1="255.4" x2="538.8" y2="266" stroke="#333" stroke-width="0.6"/>
<line x1="533.8" y1="255.4" x2="543.8" y2="255.4" stroke="#333" stroke-width="0.6"/>
<line x1="533.8" y1="266" x2="543.8" y2="266" stroke="#333" stroke-width="0.6"/>
<line x1="493.5" y1="300.6" x2="559" y2="300.6" stroke="#1a1a1a" stroke-width="1"/>
<line x1="516" y1="300.6" x2="516" y2="305.4" stroke="#1a1a1a" stroke-width="1.1"/>
<line x1="538.4" y1="300.6" x2="538.4" y2="305.4" stroke="#1a1a1a" stroke-width="1.1"/>
<g fill="#000">
<circle cx="517" cy="218" r="1.9"/>
<circle cx="517" cy="233.6" r="1.9"/>
<circle cx="520" cy="244.4" r="1.9"/>
<circle cx="514.4" cy="248" r="1.9"/>
<circle cx="517" cy="252.4" r="1.9"/>
<circle cx="509" cy="258.6" r="1.9"/>
<circle cx="514.4" cy="259.4" r="1.9"/>
<circle cx="520" cy="261" r="1.9"/>
<circle cx="525" cy="260" r="1.9"/>
<circle cx="509" cy="262.4" r="1.9"/>
</g>
<g fill="#000">
<circle cx="538.6" cy="220" r="1.9"/>
<circle cx="530.6" cy="254" r="1.9"/>
<circle cx="530.6" cy="257.4" r="1.9"/>
<circle cx="538.6" cy="257.4" r="1.9"/>
<circle cx="546.6" cy="261" r="1.9"/>
<circle cx="538.6" cy="264.4" r="1.9"/>
<circle cx="538.6" cy="269" r="1.9"/>
<circle cx="538.6" cy="273" r="1.9"/>
<circle cx="542.6" cy="276" r="1.9"/>
<circle cx="534.6" cy="278" r="1.9"/>
</g>
<text x="516.2" y="314.8" font-family="'Liberation Sans', sans-serif" font-size="8.1" text-anchor="middle" fill="#151515" stroke="#151515" stroke-width="0.12">HD</text>
<text x="538.2" y="315.4" font-family="'Liberation Sans', sans-serif" font-size="8.1" text-anchor="middle" fill="#151515" stroke="#151515" stroke-width="0.12">CLL</text>
<text x="595.4" y="188.6" font-family="'Liberation Sans', sans-serif" font-size="10.1" font-weight="bold" stroke="#111" stroke-width="0.2" fill="#111" textLength="73.2" lengthAdjust="spacingAndGlyphs">PPARγ in CD25</text>
<text x="669" y="181.4" font-family="'Liberation Sans', sans-serif" font-size="6.8" font-weight="bold" stroke="#111" stroke-width="0.2" fill="#111" textLength="14" lengthAdjust="spacingAndGlyphs">high</text>
<line x1="605.3" y1="206.55" x2="605.3" y2="299.25" stroke="#2a2a2a" stroke-width="1.05"/>
<line x1="601.5" y1="207" x2="605.3" y2="207" stroke="#1a1a1a" stroke-width="0.9"/>
<text x="600.5" y="209.35" font-family="'Liberation Sans', sans-serif" font-size="6.95" text-anchor="end" font-weight="bold" stroke="#111" stroke-width="0.2" fill="#111">15000</text>
<line x1="601.5" y1="237.6" x2="605.3" y2="237.6" stroke="#1a1a1a" stroke-width="0.9"/>
<text x="600.5" y="239.95" font-family="'Liberation Sans', sans-serif" font-size="6.95" text-anchor="end" font-weight="bold" stroke="#111" stroke-width="0.2" fill="#111">10000</text>
<line x1="601.5" y1="268.2" x2="605.3" y2="268.2" stroke="#1a1a1a" stroke-width="0.9"/>
<text x="600.5" y="270.55" font-family="'Liberation Sans', sans-serif" font-size="6.95" text-anchor="end" font-weight="bold" stroke="#111" stroke-width="0.2" fill="#111">5000</text>
<line x1="601.5" y1="298.8" x2="605.3" y2="298.8" stroke="#1a1a1a" stroke-width="0.9"/>
<text x="600.5" y="301.15" font-family="'Liberation Sans', sans-serif" font-size="6.95" text-anchor="end" font-weight="bold" stroke="#111" stroke-width="0.2" fill="#111">0</text>
<text x="577.5" y="253" font-family="'Liberation Sans', sans-serif" font-size="7.6" text-anchor="middle" font-weight="bold" stroke="#111" stroke-width="0.2" fill="#111" transform="rotate(-90 577.5 253)">gMFI</text>
<rect x="616" y="257.2" width="18.8" height="41.6" fill="#fff" stroke="#000" stroke-width="1.1"/>
<rect x="638" y="267.6" width="18.4" height="31.2" fill="#a0a0a0" stroke="#000" stroke-width="1.1"/>
<line x1="625" y1="252.4" x2="625" y2="262" stroke="#333" stroke-width="0.6"/>
<line x1="620" y1="252.4" x2="630" y2="252.4" stroke="#333" stroke-width="0.6"/>
<line x1="620" y1="262" x2="630" y2="262" stroke="#333" stroke-width="0.6"/>
<line x1="646.8" y1="263.4" x2="646.8" y2="271.4" stroke="#333" stroke-width="0.6"/>
<line x1="641.8" y1="263.4" x2="651.8" y2="263.4" stroke="#333" stroke-width="0.6"/>
<line x1="641.8" y1="271.4" x2="651.8" y2="271.4" stroke="#333" stroke-width="0.6"/>
<line x1="601.5" y1="298.9" x2="667.4" y2="298.9" stroke="#1a1a1a" stroke-width="1"/>
<line x1="625.5" y1="298.9" x2="625.5" y2="303.7" stroke="#1a1a1a" stroke-width="1.1"/>
<line x1="648.2" y1="298.9" x2="648.2" y2="303.7" stroke="#1a1a1a" stroke-width="1.1"/>
<g fill="#000">
<circle cx="625" cy="230" r="1.9"/>
<circle cx="621" cy="239" r="1.9"/>
<circle cx="629" cy="237.4" r="1.9"/>
<circle cx="633" cy="256.6" r="1.9"/>
<circle cx="625" cy="260" r="1.9"/>
<circle cx="617" cy="265.6" r="1.9"/>
<circle cx="633" cy="267.4" r="1.9"/>
<circle cx="625" cy="271" r="1.9"/>
<circle cx="617" cy="273" r="1.9"/>
<circle cx="633" cy="272.4" r="1.9"/>
</g>
<g fill="#000">
<circle cx="646.6" cy="240.6" r="1.9"/>
<circle cx="646.6" cy="258.4" r="1.9"/>
<circle cx="646.6" cy="266" r="1.9"/>
<circle cx="639" cy="267.4" r="1.9"/>
<circle cx="650" cy="268" r="1.9"/>
<circle cx="642" cy="269.4" r="1.9"/>
<circle cx="646.6" cy="271.4" r="1.9"/>
<circle cx="639" cy="276" r="1.9"/>
<circle cx="646" cy="274.4" r="1.9"/>
<circle cx="650" cy="275.6" r="1.9"/>
<circle cx="654" cy="275.6" r="1.9"/>
</g>
<text x="626.4" y="313.3" font-family="'Liberation Sans', sans-serif" font-size="8.1" text-anchor="middle" fill="#151515" stroke="#151515" stroke-width="0.12">HD</text>
<text x="648.4" y="313.3" font-family="'Liberation Sans', sans-serif" font-size="8.1" text-anchor="middle" fill="#151515" stroke="#151515" stroke-width="0.12">CLL</text>
<text x="6.25" y="342.6" font-family="'Liberation Sans', sans-serif" font-size="16.5" font-weight="bold" fill="#000">G</text>
<text x="73.6" y="344.4" font-family="'Liberation Sans', sans-serif" font-size="10.1" text-anchor="middle" font-weight="bold" stroke="#111" stroke-width="0.2" fill="#111">CPT1α</text>
<line x1="34.5" y1="371.95" x2="34.5" y2="462.75" stroke="#2a2a2a" stroke-width="1.05"/>
<line x1="30.7" y1="372.4" x2="34.5" y2="372.4" stroke="#1a1a1a" stroke-width="0.9"/>
<text x="29.7" y="374.75" font-family="'Liberation Sans', sans-serif" font-size="6.95" text-anchor="end" font-weight="bold" stroke="#111" stroke-width="0.2" fill="#111">20000</text>
<line x1="30.7" y1="394.9" x2="34.5" y2="394.9" stroke="#1a1a1a" stroke-width="0.9"/>
<text x="29.7" y="397.25" font-family="'Liberation Sans', sans-serif" font-size="6.95" text-anchor="end" font-weight="bold" stroke="#111" stroke-width="0.2" fill="#111">15000</text>
<line x1="30.7" y1="417.3" x2="34.5" y2="417.3" stroke="#1a1a1a" stroke-width="0.9"/>
<text x="29.7" y="419.65" font-family="'Liberation Sans', sans-serif" font-size="6.95" text-anchor="end" font-weight="bold" stroke="#111" stroke-width="0.2" fill="#111">10000</text>
<line x1="30.7" y1="439.8" x2="34.5" y2="439.8" stroke="#1a1a1a" stroke-width="0.9"/>
<text x="29.7" y="442.15" font-family="'Liberation Sans', sans-serif" font-size="6.95" text-anchor="end" font-weight="bold" stroke="#111" stroke-width="0.2" fill="#111">5000</text>
<line x1="30.7" y1="462.3" x2="34.5" y2="462.3" stroke="#1a1a1a" stroke-width="0.9"/>
<text x="29.7" y="464.65" font-family="'Liberation Sans', sans-serif" font-size="6.95" text-anchor="end" font-weight="bold" stroke="#111" stroke-width="0.2" fill="#111">0</text>
<text x="7.3" y="417" font-family="'Liberation Sans', sans-serif" font-size="7.6" text-anchor="middle" font-weight="bold" stroke="#111" stroke-width="0.2" fill="#111" transform="rotate(-90 7.3 417)">gMFI</text>
<rect x="42.8" y="433.8" width="12.8" height="28.5" fill="#fff" stroke="#000" stroke-width="1.1"/>
<rect x="58.4" y="433.8" width="12.7" height="28.5" fill="#a0a0a0" stroke="#000" stroke-width="1.1"/>
<rect x="88" y="384.6" width="13.2" height="77.7" fill="#fff" stroke="#000" stroke-width="1.1"/>
<rect x="104" y="425.2" width="12.9" height="37.1" fill="#a0a0a0" stroke="#000" stroke-width="1.1"/>
<line x1="49.1" y1="432.6" x2="49.1" y2="435" stroke="#333" stroke-width="0.6"/>
<line x1="45.6" y1="432.6" x2="52.6" y2="432.6" stroke="#333" stroke-width="0.6"/>
<line x1="45.6" y1="435" x2="52.6" y2="435" stroke="#333" stroke-width="0.6"/>
<line x1="64.8" y1="430.6" x2="64.8" y2="437" stroke="#333" stroke-width="0.6"/>
<line x1="61.3" y1="430.6" x2="68.3" y2="430.6" stroke="#333" stroke-width="0.6"/>
<line x1="61.3" y1="437" x2="68.3" y2="437" stroke="#333" stroke-width="0.6"/>
<line x1="94.5" y1="382.6" x2="94.5" y2="386.4" stroke="#333" stroke-width="0.6"/>
<line x1="91" y1="382.6" x2="98" y2="382.6" stroke="#333" stroke-width="0.6"/>
<line x1="91" y1="386.4" x2="98" y2="386.4" stroke="#333" stroke-width="0.6"/>
<line x1="110.4" y1="424" x2="110.4" y2="426.4" stroke="#333" stroke-width="0.6"/>
<line x1="106.9" y1="424" x2="113.9" y2="424" stroke="#333" stroke-width="0.6"/>
<line x1="106.9" y1="426.4" x2="113.9" y2="426.4" stroke="#333" stroke-width="0.6"/>
<line x1="30.7" y1="462.3" x2="125" y2="462.3" stroke="#1a1a1a" stroke-width="1"/>
<line x1="57.2" y1="462.3" x2="57.2" y2="467.1" stroke="#1a1a1a" stroke-width="1.1"/>
<line x1="102.8" y1="462.3" x2="102.8" y2="467.1" stroke="#1a1a1a" stroke-width="1.1"/>
<g fill="#000">
<circle cx="43.6" cy="435" r="1.9"/>
<circle cx="48.6" cy="432" r="1.9"/>
<circle cx="54" cy="432.4" r="1.9"/>
</g>
<g fill="#000">
<circle cx="59.4" cy="429.6" r="1.9"/>
<circle cx="64.4" cy="437" r="1.9"/>
<circle cx="69.6" cy="432.6" r="1.9"/>
</g>
<g fill="#000">
<circle cx="89.4" cy="382" r="1.9"/>
<circle cx="94.4" cy="386.6" r="1.9"/>
<circle cx="99.4" cy="383.6" r="1.9"/>
</g>
<g fill="#000">
<circle cx="105.4" cy="425" r="1.9"/>
<circle cx="110" cy="423.6" r="1.9"/>
<circle cx="115.4" cy="424.4" r="1.9"/>
</g>
<path d="M61.5 358.6V353.4H108.1V358.6" fill="none" stroke="#1a1a1a" stroke-width="1"/>
<text x="87" y="352.95" font-family="'DejaVu Sans', sans-serif" font-size="8.3" font-weight="bold" letter-spacing="1.15" text-anchor="middle" fill="#000" stroke="#000" stroke-width="0.25">*</text>
<path d="M46.4 425V369.6H92.8V375" fill="none" stroke="#1a1a1a" stroke-width="1"/>
<path d="M94.3 375V369.6H106.9V399" fill="none" stroke="#1a1a1a" stroke-width="1"/>
<text x="70.1" y="368.55" font-family="'DejaVu Sans', sans-serif" font-size="8.3" font-weight="bold" letter-spacing="1.15" text-anchor="middle" fill="#000" stroke="#000" stroke-width="0.25">****</text>
<text x="101" y="368.55" font-family="'DejaVu Sans', sans-serif" font-size="8.3" font-weight="bold" letter-spacing="1.15" text-anchor="middle" fill="#000" stroke="#000" stroke-width="0.25">**</text>
<text x="57" y="475" font-family="'Liberation Sans', sans-serif" font-size="8.2" text-anchor="middle" fill="#151515" stroke="#151515" stroke-width="0.12">Unstim</text>
<text x="102.4" y="475" font-family="'Liberation Sans', sans-serif" font-size="8.2" text-anchor="middle" fill="#151515" stroke="#151515" stroke-width="0.12">Stim</text>
<text x="137.7" y="342.25" font-family="'Liberation Sans', sans-serif" font-size="16.5" font-weight="bold" fill="#000">H</text>
<text x="240.6" y="345.5" font-family="'Liberation Sans', sans-serif" font-size="10.1" text-anchor="middle" font-weight="bold" stroke="#111" stroke-width="0.2" fill="#111" textLength="61.2" lengthAdjust="spacingAndGlyphs">Proliferation</text>
<line x1="170" y1="371.95" x2="170" y2="463.95" stroke="#2a2a2a" stroke-width="1.05"/>
<line x1="166.2" y1="372.4" x2="170" y2="372.4" stroke="#1a1a1a" stroke-width="0.9"/>
<text x="165.2" y="374.75" font-family="'Liberation Sans', sans-serif" font-size="6.95" text-anchor="end" font-weight="bold" stroke="#111" stroke-width="0.2" fill="#111">100</text>
<line x1="166.2" y1="390.6" x2="170" y2="390.6" stroke="#1a1a1a" stroke-width="0.9"/>
<text x="165.2" y="392.95" font-family="'Liberation Sans', sans-serif" font-size="6.95" text-anchor="end" font-weight="bold" stroke="#111" stroke-width="0.2" fill="#111">80</text>
<line x1="166.2" y1="408.8" x2="170" y2="408.8" stroke="#1a1a1a" stroke-width="0.9"/>
<text x="165.2" y="411.15" font-family="'Liberation Sans', sans-serif" font-size="6.95" text-anchor="end" font-weight="bold" stroke="#111" stroke-width="0.2" fill="#111">60</text>
<line x1="166.2" y1="427" x2="170" y2="427" stroke="#1a1a1a" stroke-width="0.9"/>
<text x="165.2" y="429.35" font-family="'Liberation Sans', sans-serif" font-size="6.95" text-anchor="end" font-weight="bold" stroke="#111" stroke-width="0.2" fill="#111">40</text>
<line x1="166.2" y1="445.2" x2="170" y2="445.2" stroke="#1a1a1a" stroke-width="0.9"/>
<text x="165.2" y="447.55" font-family="'Liberation Sans', sans-serif" font-size="6.95" text-anchor="end" font-weight="bold" stroke="#111" stroke-width="0.2" fill="#111">20</text>
<line x1="166.2" y1="463.5" x2="170" y2="463.5" stroke="#1a1a1a" stroke-width="0.9"/>
<text x="165.2" y="465.85" font-family="'Liberation Sans', sans-serif" font-size="6.95" text-anchor="end" font-weight="bold" stroke="#111" stroke-width="0.2" fill="#111">0</text>
<text x="149.1" y="418" font-family="'Liberation Sans', sans-serif" font-size="7.6" text-anchor="middle" font-weight="bold" stroke="#111" stroke-width="0.2" fill="#111" transform="rotate(-90 149.1 418)" textLength="55.8" lengthAdjust="spacingAndGlyphs">% Divided cells</text>
<rect x="178.8" y="420.6" width="14.6" height="42.9" fill="#fff" stroke="#000" stroke-width="1.1"/>
<rect x="196.8" y="420.6" width="14.6" height="42.9" fill="#fff" stroke="#000" stroke-width="1.1"/>
<rect x="214.8" y="458" width="14.4" height="5.5" fill="#fff" stroke="#000" stroke-width="1.1"/>
<rect x="248.4" y="444.2" width="14.6" height="19.3" fill="#a0a0a0" stroke="#000" stroke-width="1.1"/>
<rect x="266" y="458.4" width="14.8" height="5.1" fill="#a0a0a0" stroke="#000" stroke-width="1.1"/>
<rect x="284" y="459.4" width="14.8" height="4.1" fill="#a0a0a0" stroke="#000" stroke-width="1.1"/>
<line x1="186" y1="415.4" x2="186" y2="425" stroke="#333" stroke-width="0.6"/>
<line x1="182" y1="415.4" x2="190" y2="415.4" stroke="#333" stroke-width="0.6"/>
<line x1="182" y1="425" x2="190" y2="425" stroke="#333" stroke-width="0.6"/>
<line x1="204" y1="416.4" x2="204" y2="424" stroke="#333" stroke-width="0.6"/>
<line x1="200" y1="416.4" x2="208" y2="416.4" stroke="#333" stroke-width="0.6"/>
<line x1="200" y1="424" x2="208" y2="424" stroke="#333" stroke-width="0.6"/>
<line x1="221.8" y1="454.4" x2="221.8" y2="461" stroke="#333" stroke-width="0.6"/>
<line x1="217.8" y1="454.4" x2="225.8" y2="454.4" stroke="#333" stroke-width="0.6"/>
<line x1="217.8" y1="461" x2="225.8" y2="461" stroke="#333" stroke-width="0.6"/>
<line x1="255.6" y1="443" x2="255.6" y2="445.4" stroke="#333" stroke-width="0.6"/>
<line x1="251.6" y1="443" x2="259.6" y2="443" stroke="#333" stroke-width="0.6"/>
<line x1="251.6" y1="445.4" x2="259.6" y2="445.4" stroke="#333" stroke-width="0.6"/>
<line x1="273.2" y1="455" x2="273.2" y2="461.4" stroke="#333" stroke-width="0.6"/>
<line x1="269.2" y1="455" x2="277.2" y2="455" stroke="#333" stroke-width="0.6"/>
<line x1="269.2" y1="461.4" x2="277.2" y2="461.4" stroke="#333" stroke-width="0.6"/>
<line x1="291.2" y1="456.6" x2="291.2" y2="461.6" stroke="#333" stroke-width="0.6"/>
<line x1="287.2" y1="456.6" x2="295.2" y2="456.6" stroke="#333" stroke-width="0.6"/>
<line x1="287.2" y1="461.6" x2="295.2" y2="461.6" stroke="#333" stroke-width="0.6"/>
<line x1="166.2" y1="463.4" x2="308" y2="463.4" stroke="#1a1a1a" stroke-width="1"/>
<g fill="#000">
<circle cx="186" cy="413" r="1.9"/>
<circle cx="186" cy="418.4" r="1.9"/>
<circle cx="186" cy="428.6" r="1.9"/>
</g>
<g fill="#000">
<circle cx="204" cy="409.4" r="1.9"/>
<circle cx="198" cy="424" r="1.9"/>
<circle cx="204" cy="422" r="1.9"/>
<circle cx="210" cy="424" r="1.9"/>
</g>
<g fill="#000">
<circle cx="221.6" cy="449.6" r="1.9"/>
<circle cx="221.6" cy="456" r="1.9"/>
<circle cx="218" cy="461" r="1.9"/>
<circle cx="225" cy="461" r="1.9"/>
</g>
<g fill="#000">
<circle cx="249.4" cy="442" r="1.9"/>
<circle cx="255.4" cy="442" r="1.9"/>
<circle cx="261.4" cy="443.6" r="1.9"/>
<circle cx="249.4" cy="445" r="1.9"/>
</g>
<g fill="#000">
<circle cx="277" cy="452.4" r="1.9"/>
<circle cx="270" cy="456.4" r="1.9"/>
<circle cx="270" cy="461" r="1.9"/>
<circle cx="277" cy="461" r="1.9"/>
</g>
<g fill="#000">
<circle cx="291" cy="452.4" r="1.9"/>
<circle cx="287" cy="461" r="1.9"/>
<circle cx="295" cy="461" r="1.9"/>
<circle cx="291" cy="460" r="1.9"/>
</g>
<path d="M185 380.4V378H254.6V392.4" fill="none" stroke="#1a1a1a" stroke-width="1"/>
<text x="220.6" y="376.75" font-family="'DejaVu Sans', sans-serif" font-size="8.3" font-weight="bold" letter-spacing="1.15" text-anchor="middle" fill="#000" stroke="#000" stroke-width="0.25">***</text>
<path d="M185.6 398V391H224.4V437" fill="none" stroke="#1a1a1a" stroke-width="1"/>
<text x="206.5" y="390.65" font-family="'DejaVu Sans', sans-serif" font-size="8.3" font-weight="bold" letter-spacing="1.15" text-anchor="middle" fill="#000" stroke="#000" stroke-width="0.25">****</text>
<path d="M204.3 407V402H221.1V416.4" fill="none" stroke="#1a1a1a" stroke-width="1"/>
<text x="212.2" y="401.35" font-family="'DejaVu Sans', sans-serif" font-size="8.3" font-weight="bold" letter-spacing="1.15" text-anchor="middle" fill="#000" stroke="#000" stroke-width="0.25">****</text>
<path d="M254.6 421.6V418H291V432" fill="none" stroke="#1a1a1a" stroke-width="1"/>
<text x="275.2" y="417.75" font-family="'DejaVu Sans', sans-serif" font-size="8.3" font-weight="bold" letter-spacing="1.15" text-anchor="middle" fill="#000" stroke="#000" stroke-width="0.25">**</text>
<path d="M255 437V432.6H273.4V449" fill="none" stroke="#1a1a1a" stroke-width="1"/>
<text x="265" y="430.55" font-family="'DejaVu Sans', sans-serif" font-size="8.3" font-weight="bold" letter-spacing="1.15" text-anchor="middle" fill="#000" stroke="#000" stroke-width="0.25">**</text>
<text x="178.6" y="475.9" font-family="'DejaVu Sans', sans-serif" font-size="8.2" text-anchor="end" fill="#222" textLength="25" lengthAdjust="spacingAndGlyphs" stroke="#222" stroke-width="0.15">NB598</text>
<text x="179.6" y="482.8" font-family="'DejaVu Sans', sans-serif" font-size="8.2" text-anchor="end" fill="#222" textLength="43" lengthAdjust="spacingAndGlyphs" stroke="#222" stroke-width="0.15">Simvastatin</text>
<text x="186" y="474.35" font-family="'DejaVu Sans', sans-serif" font-size="9.2" text-anchor="middle" fill="#222">-</text>
<text x="203.4" y="474.7" font-family="'DejaVu Sans', sans-serif" font-size="9.2" text-anchor="middle" fill="#222">+</text>
<text x="221.6" y="474.35" font-family="'DejaVu Sans', sans-serif" font-size="9.2" text-anchor="middle" fill="#222">-</text>
<text x="255.2" y="474.35" font-family="'DejaVu Sans', sans-serif" font-size="9.2" text-anchor="middle" fill="#222">-</text>
<text x="272.4" y="474.7" font-family="'DejaVu Sans', sans-serif" font-size="9.2" text-anchor="middle" fill="#222">+</text>
<text x="290.6" y="474.35" font-family="'DejaVu Sans', sans-serif" font-size="9.2" text-anchor="middle" fill="#222">-</text>
<text x="186" y="483.35" font-family="'DejaVu Sans', sans-serif" font-size="9.2" text-anchor="middle" fill="#222">-</text>
<text x="203.4" y="483.35" font-family="'DejaVu Sans', sans-serif" font-size="9.2" text-anchor="middle" fill="#222">-</text>
<text x="221.6" y="483.7" font-family="'DejaVu Sans', sans-serif" font-size="9.2" text-anchor="middle" fill="#222">+</text>
<text x="255.2" y="483.35" font-family="'DejaVu Sans', sans-serif" font-size="9.2" text-anchor="middle" fill="#222">-</text>
<text x="272.4" y="483.35" font-family="'DejaVu Sans', sans-serif" font-size="9.2" text-anchor="middle" fill="#222">-</text>
<text x="290.6" y="483.7" font-family="'DejaVu Sans', sans-serif" font-size="9.2" text-anchor="middle" fill="#222">+</text>
<text x="417.3" y="345.6" font-family="'Liberation Sans', sans-serif" font-size="10.1" text-anchor="middle" font-weight="bold" stroke="#111" stroke-width="0.2" fill="#111" textLength="61.2" lengthAdjust="spacingAndGlyphs">Proliferation</text>
<line x1="347.6" y1="371.15" x2="347.6" y2="463.05" stroke="#2a2a2a" stroke-width="1.05"/>
<line x1="343.8" y1="371.6" x2="347.6" y2="371.6" stroke="#1a1a1a" stroke-width="0.9"/>
<text x="342.8" y="373.95" font-family="'Liberation Sans', sans-serif" font-size="6.95" text-anchor="end" font-weight="bold" stroke="#111" stroke-width="0.2" fill="#111">1.0</text>
<line x1="343.8" y1="389.8" x2="347.6" y2="389.8" stroke="#1a1a1a" stroke-width="0.9"/>
<text x="342.8" y="392.15" font-family="'Liberation Sans', sans-serif" font-size="6.95" text-anchor="end" font-weight="bold" stroke="#111" stroke-width="0.2" fill="#111">0.8</text>
<line x1="343.8" y1="408" x2="347.6" y2="408" stroke="#1a1a1a" stroke-width="0.9"/>
<text x="342.8" y="410.35" font-family="'Liberation Sans', sans-serif" font-size="6.95" text-anchor="end" font-weight="bold" stroke="#111" stroke-width="0.2" fill="#111">0.6</text>
<line x1="343.8" y1="426.2" x2="347.6" y2="426.2" stroke="#1a1a1a" stroke-width="0.9"/>
<text x="342.8" y="428.55" font-family="'Liberation Sans', sans-serif" font-size="6.95" text-anchor="end" font-weight="bold" stroke="#111" stroke-width="0.2" fill="#111">0.4</text>
<line x1="343.8" y1="444.4" x2="347.6" y2="444.4" stroke="#1a1a1a" stroke-width="0.9"/>
<text x="342.8" y="446.75" font-family="'Liberation Sans', sans-serif" font-size="6.95" text-anchor="end" font-weight="bold" stroke="#111" stroke-width="0.2" fill="#111">0.2</text>
<line x1="343.8" y1="462.6" x2="347.6" y2="462.6" stroke="#1a1a1a" stroke-width="0.9"/>
<text x="342.8" y="464.95" font-family="'Liberation Sans', sans-serif" font-size="6.95" text-anchor="end" font-weight="bold" stroke="#111" stroke-width="0.2" fill="#111">0.0</text>
<text x="329" y="417" font-family="'Liberation Sans', sans-serif" font-size="7.6" text-anchor="middle" font-weight="bold" stroke="#111" stroke-width="0.2" fill="#111" transform="rotate(-90 329 417)" textLength="51.4" lengthAdjust="spacingAndGlyphs">Division Index</text>
<rect x="356.2" y="396.2" width="15.2" height="66.4" fill="#fff" stroke="#000" stroke-width="1.1"/>
<rect x="374.2" y="398.6" width="15" height="64" fill="#fff" stroke="#000" stroke-width="1.1"/>
<rect x="392" y="454.6" width="15.2" height="8" fill="#fff" stroke="#000" stroke-width="1.1"/>
<rect x="426" y="418.6" width="14.8" height="44" fill="#a0a0a0" stroke="#000" stroke-width="1.1"/>
<rect x="443.8" y="454.4" width="14.8" height="8.2" fill="#a0a0a0" stroke="#000" stroke-width="1.1"/>
<rect x="461.4" y="458.6" width="15.4" height="4" fill="#a0a0a0" stroke="#000" stroke-width="1.1"/>
<line x1="363.4" y1="389" x2="363.4" y2="403" stroke="#333" stroke-width="0.6"/>
<line x1="359.4" y1="389" x2="367.4" y2="389" stroke="#333" stroke-width="0.6"/>
<line x1="359.4" y1="403" x2="367.4" y2="403" stroke="#333" stroke-width="0.6"/>
<line x1="381.6" y1="393" x2="381.6" y2="403" stroke="#333" stroke-width="0.6"/>
<line x1="377.6" y1="393" x2="385.6" y2="393" stroke="#333" stroke-width="0.6"/>
<line x1="377.6" y1="403" x2="385.6" y2="403" stroke="#333" stroke-width="0.6"/>
<line x1="399.4" y1="450.4" x2="399.4" y2="458.4" stroke="#333" stroke-width="0.6"/>
<line x1="395.4" y1="450.4" x2="403.4" y2="450.4" stroke="#333" stroke-width="0.6"/>
<line x1="395.4" y1="458.4" x2="403.4" y2="458.4" stroke="#333" stroke-width="0.6"/>
<line x1="433.4" y1="415" x2="433.4" y2="422" stroke="#333" stroke-width="0.6"/>
<line x1="429.4" y1="415" x2="437.4" y2="415" stroke="#333" stroke-width="0.6"/>
<line x1="429.4" y1="422" x2="437.4" y2="422" stroke="#333" stroke-width="0.6"/>
<line x1="451" y1="450.4" x2="451" y2="458" stroke="#333" stroke-width="0.6"/>
<line x1="447" y1="450.4" x2="455" y2="450.4" stroke="#333" stroke-width="0.6"/>
<line x1="447" y1="458" x2="455" y2="458" stroke="#333" stroke-width="0.6"/>
<line x1="469" y1="455.4" x2="469" y2="461" stroke="#333" stroke-width="0.6"/>
<line x1="465" y1="455.4" x2="473" y2="455.4" stroke="#333" stroke-width="0.6"/>
<line x1="465" y1="461" x2="473" y2="461" stroke="#333" stroke-width="0.6"/>
<line x1="343.8" y1="462.6" x2="486" y2="462.6" stroke="#1a1a1a" stroke-width="1"/>
<g fill="#000">
<circle cx="360" cy="387" r="1.9"/>
<circle cx="367.4" cy="390" r="1.9"/>
<circle cx="363.6" cy="410" r="1.9"/>
</g>
<g fill="#000">
<circle cx="381.6" cy="387" r="1.9"/>
<circle cx="378" cy="406.6" r="1.9"/>
<circle cx="381.6" cy="394.6" r="1.9"/>
<circle cx="385" cy="404.4" r="1.9"/>
</g>
<g fill="#000">
<circle cx="399.4" cy="445.6" r="1.9"/>
<circle cx="399.4" cy="451" r="1.9"/>
<circle cx="396.6" cy="459" r="1.9"/>
<circle cx="402.4" cy="459" r="1.9"/>
</g>
<g fill="#000">
<circle cx="433.4" cy="411.6" r="1.9"/>
<circle cx="433.4" cy="416" r="1.9"/>
<circle cx="429.4" cy="423.6" r="1.9"/>
<circle cx="437" cy="421.4" r="1.9"/>
</g>
<g fill="#000">
<circle cx="451" cy="445.6" r="1.9"/>
<circle cx="451" cy="452" r="1.9"/>
<circle cx="448" cy="458" r="1.9"/>
<circle cx="454" cy="458" r="1.9"/>
</g>
<g fill="#000">
<circle cx="469" cy="451" r="1.9"/>
<circle cx="464" cy="460" r="1.9"/>
<circle cx="469" cy="460" r="1.9"/>
<circle cx="474" cy="460" r="1.9"/>
</g>
<path d="M361.4 361V358.6H431V372.6" fill="none" stroke="#1a1a1a" stroke-width="1"/>
<text x="397.2" y="357.35" font-family="'DejaVu Sans', sans-serif" font-size="8.3" font-weight="bold" letter-spacing="1.15" text-anchor="middle" fill="#000" stroke="#000" stroke-width="0.25">***</text>
<path d="M362 375V368H401.4V415" fill="none" stroke="#1a1a1a" stroke-width="1"/>
<text x="383.6" y="368.15" font-family="'DejaVu Sans', sans-serif" font-size="8.3" font-weight="bold" letter-spacing="1.15" text-anchor="middle" fill="#000" stroke="#000" stroke-width="0.25">****</text>
<path d="M380 381.4V378.6H398V394" fill="none" stroke="#1a1a1a" stroke-width="1"/>
<text x="389.6" y="378.35" font-family="'DejaVu Sans', sans-serif" font-size="8.3" font-weight="bold" letter-spacing="1.15" text-anchor="middle" fill="#000" stroke="#000" stroke-width="0.25">****</text>
<path d="M433 390.6V386.4H469V428" fill="none" stroke="#1a1a1a" stroke-width="1"/>
<text x="451.6" y="383.75" font-family="'DejaVu Sans', sans-serif" font-size="8.3" font-weight="bold" letter-spacing="1.15" text-anchor="middle" fill="#000" stroke="#000" stroke-width="0.25">****</text>
<path d="M433 405V401H451V433.6" fill="none" stroke="#1a1a1a" stroke-width="1"/>
<text x="442.6" y="399.35" font-family="'DejaVu Sans', sans-serif" font-size="8.3" font-weight="bold" letter-spacing="1.15" text-anchor="middle" fill="#000" stroke="#000" stroke-width="0.25">****</text>
<text x="356" y="475.5" font-family="'DejaVu Sans', sans-serif" font-size="8.2" text-anchor="end" fill="#222" textLength="25.2" lengthAdjust="spacingAndGlyphs" stroke="#222" stroke-width="0.15">NB598</text>
<text x="357.2" y="482.9" font-family="'DejaVu Sans', sans-serif" font-size="8.2" text-anchor="end" fill="#222" textLength="43.5" lengthAdjust="spacingAndGlyphs" stroke="#222" stroke-width="0.15">Simvastatin</text>
<text x="363.4" y="474.35" font-family="'DejaVu Sans', sans-serif" font-size="9.2" text-anchor="middle" fill="#222">-</text>
<text x="380.6" y="474.7" font-family="'DejaVu Sans', sans-serif" font-size="9.2" text-anchor="middle" fill="#222">+</text>
<text x="398.6" y="474.35" font-family="'DejaVu Sans', sans-serif" font-size="9.2" text-anchor="middle" fill="#222">-</text>
<text x="432.6" y="474.35" font-family="'DejaVu Sans', sans-serif" font-size="9.2" text-anchor="middle" fill="#222">-</text>
<text x="449.8" y="474.7" font-family="'DejaVu Sans', sans-serif" font-size="9.2" text-anchor="middle" fill="#222">+</text>
<text x="468" y="474.35" font-family="'DejaVu Sans', sans-serif" font-size="9.2" text-anchor="middle" fill="#222">-</text>
<text x="363.4" y="483.35" font-family="'DejaVu Sans', sans-serif" font-size="9.2" text-anchor="middle" fill="#222">-</text>
<text x="380.6" y="483.35" font-family="'DejaVu Sans', sans-serif" font-size="9.2" text-anchor="middle" fill="#222">-</text>
<text x="398.6" y="483.7" font-family="'DejaVu Sans', sans-serif" font-size="9.2" text-anchor="middle" fill="#222">+</text>
<text x="432.6" y="483.35" font-family="'DejaVu Sans', sans-serif" font-size="9.2" text-anchor="middle" fill="#222">-</text>
<text x="449.8" y="483.35" font-family="'DejaVu Sans', sans-serif" font-size="9.2" text-anchor="middle" fill="#222">-</text>
<text x="468" y="483.7" font-family="'DejaVu Sans', sans-serif" font-size="9.2" text-anchor="middle" fill="#222">+</text>
<text x="13.8" y="509.8" font-family="'Liberation Sans', sans-serif" font-size="16.5" font-weight="bold" fill="#000">I</text>
<text x="82.5" y="515.6" font-family="'Liberation Sans', sans-serif" font-size="10.1" text-anchor="middle" font-weight="bold" stroke="#111" stroke-width="0.2" fill="#111" textLength="61.2" lengthAdjust="spacingAndGlyphs">Proliferation</text>
<line x1="34.5" y1="546.95" x2="34.5" y2="643.05" stroke="#2a2a2a" stroke-width="1.05"/>
<line x1="30.7" y1="547.4" x2="34.5" y2="547.4" stroke="#1a1a1a" stroke-width="0.9"/>
<text x="29.7" y="549.75" font-family="'Liberation Sans', sans-serif" font-size="6.95" text-anchor="end" font-weight="bold" stroke="#111" stroke-width="0.2" fill="#111">100</text>
<line x1="30.7" y1="566.4" x2="34.5" y2="566.4" stroke="#1a1a1a" stroke-width="0.9"/>
<text x="29.7" y="568.75" font-family="'Liberation Sans', sans-serif" font-size="6.95" text-anchor="end" font-weight="bold" stroke="#111" stroke-width="0.2" fill="#111">80</text>
<line x1="30.7" y1="585.5" x2="34.5" y2="585.5" stroke="#1a1a1a" stroke-width="0.9"/>
<text x="29.7" y="587.85" font-family="'Liberation Sans', sans-serif" font-size="6.95" text-anchor="end" font-weight="bold" stroke="#111" stroke-width="0.2" fill="#111">60</text>
<line x1="30.7" y1="604.5" x2="34.5" y2="604.5" stroke="#1a1a1a" stroke-width="0.9"/>
<text x="29.7" y="606.85" font-family="'Liberation Sans', sans-serif" font-size="6.95" text-anchor="end" font-weight="bold" stroke="#111" stroke-width="0.2" fill="#111">40</text>
<line x1="30.7" y1="623.6" x2="34.5" y2="623.6" stroke="#1a1a1a" stroke-width="0.9"/>
<text x="29.7" y="625.95" font-family="'Liberation Sans', sans-serif" font-size="6.95" text-anchor="end" font-weight="bold" stroke="#111" stroke-width="0.2" fill="#111">20</text>
<line x1="30.7" y1="642.6" x2="34.5" y2="642.6" stroke="#1a1a1a" stroke-width="0.9"/>
<text x="29.7" y="644.95" font-family="'Liberation Sans', sans-serif" font-size="6.95" text-anchor="end" font-weight="bold" stroke="#111" stroke-width="0.2" fill="#111">0</text>
<text x="13.1" y="594.9" font-family="'Liberation Sans', sans-serif" font-size="7.9" text-anchor="middle" font-weight="bold" stroke="#111" stroke-width="0.2" fill="#111" transform="rotate(-90 13.1 594.9)" textLength="58" lengthAdjust="spacingAndGlyphs">% Divided cells</text>
<rect x="42.8" y="595.2" width="14" height="47.4" fill="#fff" stroke="#000" stroke-width="1.1"/>
<rect x="59.8" y="596.8" width="14" height="45.8" fill="#fff" stroke="#000" stroke-width="1.1"/>
<rect x="91.8" y="610.8" width="13.6" height="31.8" fill="#a0a0a0" stroke="#000" stroke-width="1.1"/>
<rect x="108.4" y="607.6" width="13.8" height="35" fill="#a0a0a0" stroke="#000" stroke-width="1.1"/>
<line x1="49.8" y1="590" x2="49.8" y2="600.4" stroke="#333" stroke-width="0.6"/>
<line x1="45.8" y1="590" x2="53.8" y2="590" stroke="#333" stroke-width="0.6"/>
<line x1="45.8" y1="600.4" x2="53.8" y2="600.4" stroke="#333" stroke-width="0.6"/>
<line x1="66.6" y1="590.4" x2="66.6" y2="602.6" stroke="#333" stroke-width="0.6"/>
<line x1="62.6" y1="590.4" x2="70.6" y2="590.4" stroke="#333" stroke-width="0.6"/>
<line x1="62.6" y1="602.6" x2="70.6" y2="602.6" stroke="#333" stroke-width="0.6"/>
<line x1="98.6" y1="605.6" x2="98.6" y2="615" stroke="#333" stroke-width="0.6"/>
<line x1="94.6" y1="605.6" x2="102.6" y2="605.6" stroke="#333" stroke-width="0.6"/>
<line x1="94.6" y1="615" x2="102.6" y2="615" stroke="#333" stroke-width="0.6"/>
<line x1="115.2" y1="602.4" x2="115.2" y2="612.4" stroke="#333" stroke-width="0.6"/>
<line x1="111.2" y1="602.4" x2="119.2" y2="602.4" stroke="#333" stroke-width="0.6"/>
<line x1="111.2" y1="612.4" x2="119.2" y2="612.4" stroke="#333" stroke-width="0.6"/>
<line x1="30.7" y1="642.6" x2="131" y2="642.6" stroke="#1a1a1a" stroke-width="1"/>
<g fill="#000">
<circle cx="50" cy="567.6" r="1.9"/>
<circle cx="44.4" cy="596" r="1.9"/>
<circle cx="50" cy="595" r="1.9"/>
<circle cx="54" cy="594" r="1.9"/>
<circle cx="55.6" cy="596.4" r="1.9"/>
<circle cx="50" cy="596.4" r="1.9"/>
<circle cx="47" cy="610" r="1.9"/>
<circle cx="53" cy="607.4" r="1.9"/>
</g>
<g fill="#000">
<circle cx="66.4" cy="575" r="1.9"/>
<circle cx="66.4" cy="581" r="1.9"/>
<circle cx="61" cy="592" r="1.9"/>
<circle cx="72" cy="592" r="1.9"/>
<circle cx="66.4" cy="603" r="1.9"/>
<circle cx="66.4" cy="608.4" r="1.9"/>
<circle cx="66.4" cy="622.4" r="1.9"/>
</g>
<g fill="#000">
<circle cx="98.4" cy="590" r="1.9"/>
<circle cx="104" cy="603.4" r="1.9"/>
<circle cx="92.6" cy="606.6" r="1.9"/>
<circle cx="98" cy="613.4" r="1.9"/>
<circle cx="104" cy="613" r="1.9"/>
<circle cx="92.6" cy="616" r="1.9"/>
<circle cx="104" cy="620" r="1.9"/>
<circle cx="92.6" cy="623.4" r="1.9"/>
</g>
<g fill="#000">
<circle cx="115" cy="578.4" r="1.9"/>
<circle cx="112" cy="609" r="1.9"/>
<circle cx="118" cy="608.4" r="1.9"/>
<circle cx="121" cy="609" r="1.9"/>
<circle cx="110" cy="613.6" r="1.9"/>
<circle cx="115" cy="613.6" r="1.9"/>
<circle cx="120" cy="613.6" r="1.9"/>
</g>
<text x="8.1" y="654.9" font-family="'DejaVu Sans', sans-serif" font-size="8.2" fill="#222" textLength="32.6" lengthAdjust="spacingAndGlyphs" stroke="#222" stroke-width="0.15">GW3595</text>
<text x="48.6" y="654.55" font-family="'DejaVu Sans', sans-serif" font-size="9.2" text-anchor="middle" fill="#222">-</text>
<text x="66.4" y="654.9" font-family="'DejaVu Sans', sans-serif" font-size="9.2" text-anchor="middle" fill="#222">+</text>
<text x="97.4" y="654.55" font-family="'DejaVu Sans', sans-serif" font-size="9.2" text-anchor="middle" fill="#222">-</text>
<text x="114.4" y="654.9" font-family="'DejaVu Sans', sans-serif" font-size="9.2" text-anchor="middle" fill="#222">+</text>
<text x="212" y="515.2" font-family="'Liberation Sans', sans-serif" font-size="10.1" text-anchor="middle" font-weight="bold" stroke="#111" stroke-width="0.2" fill="#111" textLength="61.2" lengthAdjust="spacingAndGlyphs">Proliferation</text>
<line x1="170.6" y1="547.55" x2="170.6" y2="643.65" stroke="#2a2a2a" stroke-width="1.05"/>
<line x1="166.8" y1="548" x2="170.6" y2="548" stroke="#1a1a1a" stroke-width="0.9"/>
<text x="165.8" y="550.35" font-family="'Liberation Sans', sans-serif" font-size="7.3" text-anchor="end" font-weight="bold" stroke="#111" stroke-width="0.2" fill="#111">2.0</text>
<line x1="166.8" y1="571.8" x2="170.6" y2="571.8" stroke="#1a1a1a" stroke-width="0.9"/>
<text x="165.8" y="574.15" font-family="'Liberation Sans', sans-serif" font-size="7.3" text-anchor="end" font-weight="bold" stroke="#111" stroke-width="0.2" fill="#111">1.5</text>
<line x1="166.8" y1="595.6" x2="170.6" y2="595.6" stroke="#1a1a1a" stroke-width="0.9"/>
<text x="165.8" y="597.95" font-family="'Liberation Sans', sans-serif" font-size="7.3" text-anchor="end" font-weight="bold" stroke="#111" stroke-width="0.2" fill="#111">1.0</text>
<line x1="166.8" y1="619.4" x2="170.6" y2="619.4" stroke="#1a1a1a" stroke-width="0.9"/>
<text x="165.8" y="621.75" font-family="'Liberation Sans', sans-serif" font-size="7.3" text-anchor="end" font-weight="bold" stroke="#111" stroke-width="0.2" fill="#111">0.5</text>
<line x1="166.8" y1="643.2" x2="170.6" y2="643.2" stroke="#1a1a1a" stroke-width="0.9"/>
<text x="165.8" y="645.55" font-family="'Liberation Sans', sans-serif" font-size="7.3" text-anchor="end" font-weight="bold" stroke="#111" stroke-width="0.2" fill="#111">0.0</text>
<text x="150.5" y="595.3" font-family="'Liberation Sans', sans-serif" font-size="7.9" text-anchor="middle" font-weight="bold" stroke="#111" stroke-width="0.2" fill="#111" transform="rotate(-90 150.5 595.3)" textLength="53.6" lengthAdjust="spacingAndGlyphs">Division Index</text>
<rect x="178.4" y="601.8" width="14" height="41.4" fill="#fff" stroke="#000" stroke-width="1.1"/>
<rect x="195.4" y="601.8" width="13.8" height="41.4" fill="#fff" stroke="#000" stroke-width="1.1"/>
<rect x="226.8" y="597.2" width="14" height="46" fill="#a0a0a0" stroke="#000" stroke-width="1.1"/>
<rect x="244" y="594.8" width="13.8" height="48.4" fill="#a0a0a0" stroke="#000" stroke-width="1.1"/>
<line x1="185.4" y1="594.6" x2="185.4" y2="607.6" stroke="#333" stroke-width="0.6"/>
<line x1="181.4" y1="594.6" x2="189.4" y2="594.6" stroke="#333" stroke-width="0.6"/>
<line x1="181.4" y1="607.6" x2="189.4" y2="607.6" stroke="#333" stroke-width="0.6"/>
<line x1="202.2" y1="594" x2="202.2" y2="608" stroke="#333" stroke-width="0.6"/>
<line x1="198.2" y1="594" x2="206.2" y2="594" stroke="#333" stroke-width="0.6"/>
<line x1="198.2" y1="608" x2="206.2" y2="608" stroke="#333" stroke-width="0.6"/>
<line x1="233.6" y1="589" x2="233.6" y2="604.6" stroke="#333" stroke-width="0.6"/>
<line x1="229.6" y1="589" x2="237.6" y2="589" stroke="#333" stroke-width="0.6"/>
<line x1="229.6" y1="604.6" x2="237.6" y2="604.6" stroke="#333" stroke-width="0.6"/>
<line x1="250.6" y1="590.4" x2="250.6" y2="598" stroke="#333" stroke-width="0.6"/>
<line x1="246.6" y1="590.4" x2="254.6" y2="590.4" stroke="#333" stroke-width="0.6"/>
<line x1="246.6" y1="598" x2="254.6" y2="598" stroke="#333" stroke-width="0.6"/>
<line x1="166.8" y1="643.2" x2="266" y2="643.2" stroke="#1a1a1a" stroke-width="1"/>
<g fill="#000">
<circle cx="185.4" cy="570.4" r="1.9"/>
<circle cx="185.4" cy="591.4" r="1.9"/>
<circle cx="185.4" cy="596.4" r="1.9"/>
<circle cx="185.4" cy="602" r="1.9"/>
<circle cx="185.4" cy="610" r="1.9"/>
<circle cx="180" cy="619" r="1.9"/>
<circle cx="191" cy="617" r="1.9"/>
</g>
<g fill="#000">
<circle cx="202" cy="575" r="1.9"/>
<circle cx="202" cy="588" r="1.9"/>
<circle cx="202" cy="594" r="1.9"/>
<circle cx="202" cy="602.4" r="1.9"/>
<circle cx="196.4" cy="610.4" r="1.9"/>
<circle cx="207.4" cy="612.4" r="1.9"/>
<circle cx="202" cy="628.4" r="1.9"/>
</g>
<g fill="#000">
<circle cx="233.6" cy="561.6" r="1.9"/>
<circle cx="233.6" cy="580.4" r="1.9"/>
<circle cx="233.6" cy="590" r="1.9"/>
<circle cx="233.6" cy="604.6" r="1.9"/>
<circle cx="233.6" cy="609.6" r="1.9"/>
<circle cx="228.4" cy="617" r="1.9"/>
<circle cx="239" cy="615.4" r="1.9"/>
</g>
<g fill="#000">
<circle cx="250.4" cy="576.6" r="1.9"/>
<circle cx="245" cy="590" r="1.9"/>
<circle cx="256" cy="589.4" r="1.9"/>
<circle cx="245" cy="596.4" r="1.9"/>
<circle cx="256" cy="596" r="1.9"/>
<circle cx="250.4" cy="601.6" r="1.9"/>
<circle cx="250.4" cy="608" r="1.9"/>
</g>
<text x="141" y="655.4" font-family="'DejaVu Sans', sans-serif" font-size="8.2" fill="#222" textLength="32.4" lengthAdjust="spacingAndGlyphs" stroke="#222" stroke-width="0.15">GW3595</text>
<text x="185" y="654.75" font-family="'DejaVu Sans', sans-serif" font-size="9.2" text-anchor="middle" fill="#222">-</text>
<text x="202.4" y="655.1" font-family="'DejaVu Sans', sans-serif" font-size="9.2" text-anchor="middle" fill="#222">+</text>
<text x="233.6" y="654.75" font-family="'DejaVu Sans', sans-serif" font-size="9.2" text-anchor="middle" fill="#222">-</text>
<text x="250.6" y="655.1" font-family="'DejaVu Sans', sans-serif" font-size="9.2" text-anchor="middle" fill="#222">+</text>
<text x="274.95" y="511.4" font-family="'Liberation Sans', sans-serif" font-size="16.5" font-weight="bold" fill="#000">J</text>
<text x="345.7" y="516" font-family="'Liberation Sans', sans-serif" font-size="10.1" text-anchor="middle" font-weight="bold" stroke="#111" stroke-width="0.2" fill="#111">SCD</text>
<line x1="306.4" y1="547.05" x2="306.4" y2="643.15" stroke="#2a2a2a" stroke-width="1.05"/>
<line x1="302.6" y1="547.5" x2="306.4" y2="547.5" stroke="#1a1a1a" stroke-width="0.9"/>
<text x="301.6" y="549.85" font-family="'Liberation Sans', sans-serif" font-size="6.95" text-anchor="end" font-weight="bold" stroke="#111" stroke-width="0.2" fill="#111">30000</text>
<line x1="302.6" y1="579.3" x2="306.4" y2="579.3" stroke="#1a1a1a" stroke-width="0.9"/>
<text x="301.6" y="581.65" font-family="'Liberation Sans', sans-serif" font-size="6.95" text-anchor="end" font-weight="bold" stroke="#111" stroke-width="0.2" fill="#111">20000</text>
<line x1="302.6" y1="611" x2="306.4" y2="611" stroke="#1a1a1a" stroke-width="0.9"/>
<text x="301.6" y="613.35" font-family="'Liberation Sans', sans-serif" font-size="6.95" text-anchor="end" font-weight="bold" stroke="#111" stroke-width="0.2" fill="#111">10000</text>
<line x1="302.6" y1="642.7" x2="306.4" y2="642.7" stroke="#1a1a1a" stroke-width="0.9"/>
<text x="301.6" y="645.05" font-family="'Liberation Sans', sans-serif" font-size="6.95" text-anchor="end" font-weight="bold" stroke="#111" stroke-width="0.2" fill="#111">0</text>
<text x="276.8" y="594.8" font-family="'Liberation Sans', sans-serif" font-size="7.9" text-anchor="middle" font-weight="bold" stroke="#111" stroke-width="0.2" fill="#111" transform="rotate(-90 276.8 594.8)">gMFI</text>
<rect x="314.8" y="622.2" width="14" height="20.5" fill="#fff" stroke="#000" stroke-width="1.1"/>
<rect x="331.8" y="589.4" width="13.8" height="53.3" fill="#fff" stroke="#000" stroke-width="1.1"/>
<rect x="363" y="638.8" width="13.8" height="3.9" fill="#a0a0a0" stroke="#000" stroke-width="1.1"/>
<rect x="379.8" y="630.8" width="14" height="11.9" fill="#a0a0a0" stroke="#000" stroke-width="1.1"/>
<line x1="321.6" y1="616.4" x2="321.6" y2="627" stroke="#333" stroke-width="0.6"/>
<line x1="317.6" y1="616.4" x2="325.6" y2="616.4" stroke="#333" stroke-width="0.6"/>
<line x1="317.6" y1="627" x2="325.6" y2="627" stroke="#333" stroke-width="0.6"/>
<line x1="338.6" y1="580.4" x2="338.6" y2="597.4" stroke="#333" stroke-width="0.6"/>
<line x1="334.6" y1="580.4" x2="342.6" y2="580.4" stroke="#333" stroke-width="0.6"/>
<line x1="334.6" y1="597.4" x2="342.6" y2="597.4" stroke="#333" stroke-width="0.6"/>
<line x1="369.8" y1="637.6" x2="369.8" y2="640" stroke="#333" stroke-width="0.6"/>
<line x1="365.8" y1="637.6" x2="373.8" y2="637.6" stroke="#333" stroke-width="0.6"/>
<line x1="365.8" y1="640" x2="373.8" y2="640" stroke="#333" stroke-width="0.6"/>
<line x1="386.8" y1="628.4" x2="386.8" y2="633" stroke="#333" stroke-width="0.6"/>
<line x1="382.8" y1="628.4" x2="390.8" y2="628.4" stroke="#333" stroke-width="0.6"/>
<line x1="382.8" y1="633" x2="390.8" y2="633" stroke="#333" stroke-width="0.6"/>
<line x1="302.6" y1="642.7" x2="402.4" y2="642.7" stroke="#1a1a1a" stroke-width="1"/>
<g fill="#000">
<circle cx="321.6" cy="600" r="1.9"/>
<circle cx="321.6" cy="604.6" r="1.9"/>
<circle cx="321.6" cy="621.6" r="1.9"/>
<circle cx="327" cy="622" r="1.9"/>
<circle cx="316" cy="626.6" r="1.9"/>
<circle cx="316" cy="631.4" r="1.9"/>
<circle cx="327" cy="633.4" r="1.9"/>
<circle cx="316" cy="636" r="1.9"/>
</g>
<g fill="#000">
<circle cx="338" cy="558.6" r="1.9"/>
<circle cx="338" cy="563" r="1.9"/>
<circle cx="338" cy="586" r="1.9"/>
<circle cx="338" cy="592.6" r="1.9"/>
<circle cx="332.4" cy="603.4" r="1.9"/>
<circle cx="343.6" cy="603.6" r="1.9"/>
<circle cx="338" cy="615.4" r="1.9"/>
</g>
<g fill="#000">
<circle cx="369" cy="635" r="1.9"/>
<circle cx="366" cy="637.4" r="1.9"/>
<circle cx="372" cy="637.4" r="1.9"/>
<circle cx="364" cy="639.4" r="1.9"/>
<circle cx="369" cy="639.4" r="1.9"/>
<circle cx="375.4" cy="639" r="1.9"/>
</g>
<g fill="#000">
<circle cx="386.6" cy="623" r="1.9"/>
<circle cx="389.6" cy="628" r="1.9"/>
<circle cx="383" cy="630" r="1.9"/>
<circle cx="392" cy="630" r="1.9"/>
<circle cx="386.6" cy="631" r="1.9"/>
<circle cx="385" cy="634" r="1.9"/>
</g>
<path d="M336.6 528.4V523.4H383.6V591" fill="none" stroke="#1a1a1a" stroke-width="1"/>
<text x="362.6" y="523.35" font-family="'DejaVu Sans', sans-serif" font-size="8.3" font-weight="bold" letter-spacing="1.15" text-anchor="middle" fill="#000" stroke="#000" stroke-width="0.25">****</text>
<path d="M320 537V533H366.5V612.4" fill="none" stroke="#1a1a1a" stroke-width="1"/>
<text x="344.1" y="531.15" font-family="'DejaVu Sans', sans-serif" font-size="8.3" font-weight="bold" letter-spacing="1.15" text-anchor="middle" fill="#000" stroke="#000" stroke-width="0.25">*</text>
<path d="M320 592V549H337.6V553" fill="none" stroke="#1a1a1a" stroke-width="1"/>
<text x="329.6" y="546.75" font-family="'DejaVu Sans', sans-serif" font-size="8.3" font-weight="bold" letter-spacing="1.15" text-anchor="middle" fill="#000" stroke="#000" stroke-width="0.25">****</text>
<text x="279.4" y="655.3" font-family="'DejaVu Sans', sans-serif" font-size="8.2" fill="#222" textLength="32.4" lengthAdjust="spacingAndGlyphs" stroke="#222" stroke-width="0.15">GW3595</text>
<text x="321.4" y="654.55" font-family="'DejaVu Sans', sans-serif" font-size="9.2" text-anchor="middle" fill="#222">-</text>
<text x="338" y="654.9" font-family="'DejaVu Sans', sans-serif" font-size="9.2" text-anchor="middle" fill="#222">+</text>
<text x="368.6" y="654.55" font-family="'DejaVu Sans', sans-serif" font-size="9.2" text-anchor="middle" fill="#222">-</text>
<text x="386" y="654.9" font-family="'DejaVu Sans', sans-serif" font-size="9.2" text-anchor="middle" fill="#222">+</text>
</svg>
</body>
</html>
